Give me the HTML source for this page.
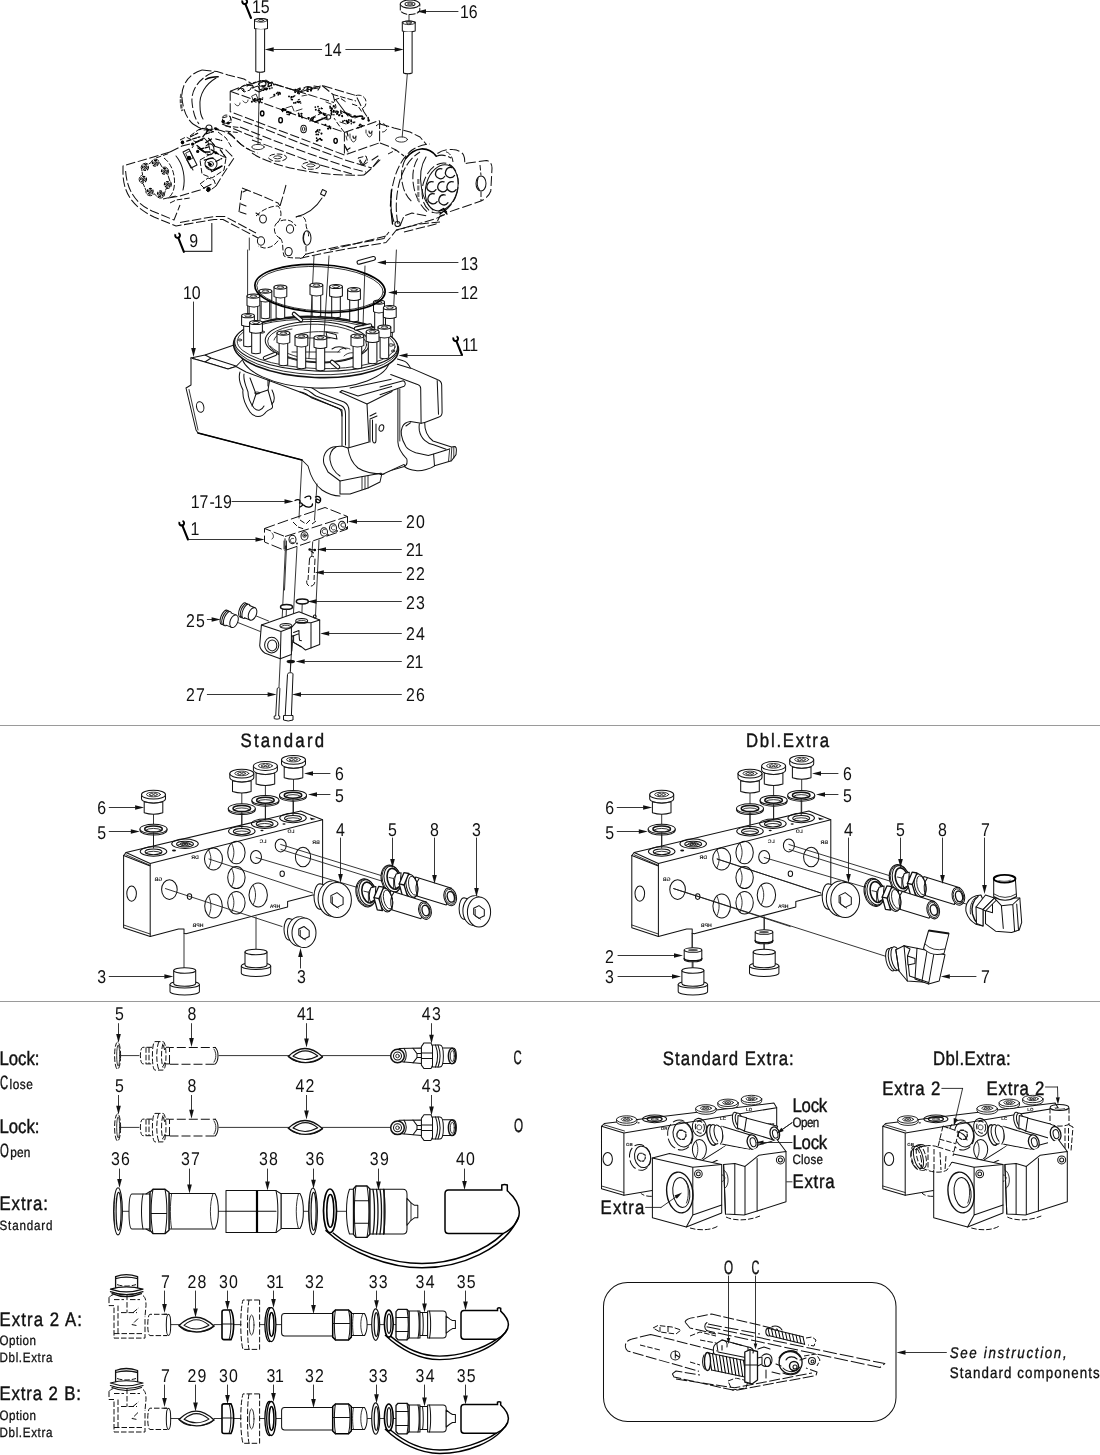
<!DOCTYPE html>
<html><head><meta charset="utf-8"><title>Parts diagram</title>
<style>
html,body{margin:0;padding:0;background:#fff;}
body{width:1100px;height:1455px;overflow:hidden;font-family:"Liberation Sans",sans-serif;}
svg{display:block;filter:grayscale(1);}
.k{fill:none;stroke:#111;stroke-width:1.02;stroke-linecap:round;stroke-linejoin:round;}
.t{fill:none;stroke:#1a1a1a;stroke-width:.88;stroke-linecap:round;stroke-linejoin:round;}
.h{fill:none;stroke:#000;stroke-width:1.4;stroke-linecap:round;stroke-linejoin:round;}
.d{fill:none;stroke:#111;stroke-width:1.02;stroke-dasharray:9.5 2.6;stroke-linecap:butt;stroke-linejoin:round;}
.d2{fill:none;stroke:#111;stroke-width:1;stroke-dasharray:5.5 2;stroke-linecap:butt;stroke-linejoin:round;}
.w{fill:#fff;stroke:#111;stroke-width:1.02;stroke-linecap:round;stroke-linejoin:round;}
.wt{fill:#fff;stroke:#1a1a1a;stroke-width:.88;stroke-linecap:round;stroke-linejoin:round;}
.f{fill:#111;stroke:none;}
text{font-family:"Liberation Sans",sans-serif;fill:#111;text-rendering:geometricPrecision;}
.n{font-size:16.5px;}
.s{font-size:12px;}
</style></head><body>
<svg width="1100" height="1455" viewBox="0 0 1100 1455">
<!-- ===== top assembly: bolts, washer ===== -->
<g id="bolts">
<path class="w" d="M254.5 19.5Q261 17.5 267.5 19.5V28.5Q261 30.5 254.5 28.5Z"/>
<ellipse class="t" cx="261" cy="20.3" rx="6.4" ry="1.8"/><ellipse class="t" cx="261" cy="20.4" rx="2.6" ry="1"/>
<path class="w" d="M255.8 29.3V71.5Q260.2 73.2 264.6 71.5V29.3"/>
<path class="t" d="M259.6 72.5L258 144.5"/>
<ellipse class="t" cx="258" cy="147" rx="6.2" ry="2.6"/>
<path class="w" d="M402.3 22Q408.8 20 415.2 22V31Q408.8 33 402.3 31Z"/>
<ellipse class="t" cx="408.8" cy="22.8" rx="6.3" ry="1.8"/><ellipse class="t" cx="408.8" cy="22.9" rx="2.6" ry="1"/>
<path class="w" d="M403.5 31.8V73Q407.8 74.7 412.1 73V31.8"/>
<path class="t" d="M407.3 74L402.2 137"/>
<ellipse class="t" cx="401.5" cy="139.5" rx="6" ry="2.6"/>
<path class="t" d="M409 15V21"/>
<path class="w" d="M400.300 4.100V10.300A9.800 4.600 0 0 0 419.800 10.300V4.100" style="stroke-dasharray:6 2.200"/>
<ellipse class="w" cx="410" cy="4.100" rx="9.800" ry="4.100"/><ellipse class="k" cx="410" cy="4" rx="5" ry="2"/><ellipse class="t" cx="410" cy="4" rx="2.600" ry="1"/>
</g>

<!-- ===== top assembly: dashed casing ===== -->
<g id="casing">
<!-- left arm outer/inner -->
<path class="d" d="M170 152L123 166L123 175C124 192 131 206 154 217L176 226L214 219.5L223 219.5L258 238"/>
<path class="d" d="M125.6 171C127 190 135 203 152 211L174 220L180 205"/>
<path class="d" d="M180 222.5L214 216.5L225 216.5L256 233"/>
<!-- 9 leader box -->
<path d="M211.800 223V251.400H184" fill="none" stroke="#333" stroke-width="1.2"/>
<!-- top-left big cylinder -->
<path class="d" d="M202 70C188 74 181 86 182 98C183 110 187 119 193 124"/>
<path class="d" d="M214 72C199 78 191 90 192 102C193 112 195 119 199 124"/>
<path class="k" d="M216 78C206 84 199 94 200 106C200 112 201 116 203 119"/>
<path class="h" d="M205.500 79.500C209 77.500 213 76.800 218.200 76.800"/>
<path d="M181.300 94C180.300 100 180.800 106 182.300 111" stroke="#555" stroke-width="2.200" stroke-dasharray="4 1.200" fill="none"/>
<path class="d" d="M202 70L217 71.5L228 75L244 79L252 84"/>
<path class="d" d="M193 124L198 127L204 130"/>
<!-- body top behind block -->
<path class="d" d="M252 84L262 80L300 92"/>
<!-- left shoulder curves going down from cylinder to top surface -->
<path class="d" d="M204 130C214 128 224 130 232 136C238 142 246 150 258 153"/>
<path class="d" d="M222 124L232 128L246 134L262 140"/>
<path class="d" d="M228 132C236 138 240 146 250 150"/>
<!-- top surface lines below valve block -->
<path class="d" d="M232 117L262 128L300 143L345 160L372 168"/>
<path class="d" d="M240 127L270 139L310 154L350 168L366 172"/>
<path class="d" d="M252 140L285 152L320 165L352 174"/>
<path class="d" d="M252 153C262 160 280 166 300 170C320 174 345 176 364 175"/>
<path class="d" d="M364 175L372 168L380 158"/>
<!-- bolt pads -->
<ellipse class="d2" cx="277.6" cy="157.6" rx="9" ry="3.6"/><ellipse class="t" cx="277.6" cy="157.3" rx="4" ry="1.5"/>
<ellipse class="d2" cx="310.8" cy="165.7" rx="9" ry="3.6"/><ellipse class="t" cx="310.8" cy="165.4" rx="4" ry="1.5"/>
<!-- small lug left of block -->
<path class="d2" d="M222 118L230 116L232 122L224 124Z"/>
<!-- lower body edge -->
<path class="d" d="M300 258.5C330 251 360 247 386 242.5L390 238L396 230.5L436 218.5L446 214"/>
<path class="d" d="M305 254.5C332 247 360 243 384 238.5L389 232"/>
<path class="d" d="M330 250L386 236"/>
<!-- right flange big curve -->
<path class="d" d="M394 222C390 210 390 196 393 184C396 170 402 158 412 150C418 146 424 144.5 430 144"/>
<path class="h" d="M391.5 190L390.5 206M391 210L392.5 224"/>
<path class="d" d="M398 224C395 210 396 194 400 180C404 168 410 158 420 152"/>
<!-- right of hole to cylinder -->
<path class="d" d="M380 124L394 128L410 132L420 137L426 144"/>
<path class="d" d="M380 143L388 146L396 150L404 156"/>
<!-- right cylinder rim arcs -->
<path class="h" d="M405.700 158.400C410 153 416 149.500 421 149C428 148.500 433 152 436.300 156.200" style="stroke-width:1.7"/>
<path class="d" d="M405.700 158.400C401.500 166 400.500 176 402.500 184C404 192 407.500 198 412.300 202"/>
<path class="d" d="M417.700 158.400C413 166 412 176 413.400 184.500C415 196 420 206 428.600 213"/>
<path class="k" d="M426 157C421 165 419.500 177 421.500 188C423 197 427 205 433 210"/>
<path class="d" d="M436.300 156.200C442 154 447 155.500 451 158"/>
<path d="M418.300 179V201" stroke="#777" stroke-width="2.200" stroke-dasharray="5 1.500" fill="none"/>
<!-- connector face -->
<ellipse class="k" cx="441.700" cy="187.800" rx="15.800" ry="23.500" transform="rotate(15 441.700 187.800)"/>
<ellipse class="d" cx="440.200" cy="188" rx="17.500" ry="25.500" transform="rotate(15 440.200 188)" style="stroke-dasharray:10 3"/>
<g class="k" style="stroke-width:1.250">
<path d="M441.9 168.8A5 5 0 1 0 444.7 176.5"/>
<path d="M451.8 167.7A5 5 0 1 0 454.6 175.4"/>
<path d="M433.2 181.9A5 5 0 1 0 436.0 189.6"/>
<path d="M444.1 181.9A5 5 0 1 0 446.9 189.6"/>
<path d="M453.3 181.9A5 5 0 1 0 456.1 189.6"/>
<path d="M434.3 193.9A5 5 0 1 0 437.1 201.6"/>
<path d="M445.2 195.0A5 5 0 1 0 448.0 202.7"/>
</g>
<path class="h" d="M439 211L443.500 208.500L446.500 212"/>
<!-- ear bracket -->
<path class="d" d="M437.400 153.500C442 150 448 149 452.600 149.600C458 150 462 152 463.500 155C465 158 465 161 464.600 163.800C466 163.500 468 163 470 162.700L486.500 160.500C490 161 492 164 492 168L490.800 191C489 196 485 199 481 201L459 208.500L446 213" style="stroke-dasharray:10 3"/>
<path class="d2" d="M446 151.800C450 153 452.500 157 453 162"/>
<path class="d2" d="M480 165L481 175.500M481 191.500V201"/>
<ellipse class="k" cx="481" cy="183.500" rx="5" ry="7.600"/>
<path class="k" d="M478 178.500C476.500 182 477 187 479.500 190"/>
<!-- below cylinder shelf -->
<path class="d" d="M400 226L404 216L412 213L428 216"/>
<path class="d" d="M396 230L420 224L440 222"/>
<path class="d" d="M404 232L436 224L440 216L446 214"/>
<circle class="k" cx="397.5" cy="224" r="2.6"/>
<path class="h" d="M440 214L444 211L447 214"/>
</g>

<!-- ===== motor (left) ===== -->
<g id="motor">
<path class="k" d="M141.8 169.8A4.3 4.3 0 0 1 148.2 164.2L151.1 162.5A4.3 4.3 0 0 1 159.5 162.6L162.3 167.5A4.3 4.3 0 0 1 167.6 174.1L169.8 180.9A4.3 4.3 0 0 1 166.2 188.5L164.6 193.1A4.3 4.3 0 0 1 156.6 195.9L153.9 193.6A4.3 4.3 0 0 1 146.0 190.4L143.1 183.6A4.3 4.3 0 0 1 142.6 175.1Z" style="stroke-dasharray:5 1.6;stroke-width:1"/>
<path class="d2" d="M156 158L170 153M163 199L176 196"/>
<circle cx="145.5" cy="167.6" r="2.900" fill="none" stroke="#000" stroke-width="1.200" stroke-dasharray="3 1"/><polygon points="147.1,168.0 145.9,169.2 144.3,168.8 143.9,167.2 145.1,166.0 146.7,166.4" fill="none" stroke="#000" stroke-width="1"/><circle cx="145.5" cy="167.6" r=".7" fill="#000"/>
<circle cx="155.3" cy="163.3" r="2.900" fill="none" stroke="#000" stroke-width="1.200" stroke-dasharray="3 1"/><polygon points="156.9,163.7 155.7,164.9 154.1,164.5 153.7,162.9 154.9,161.7 156.5,162.1" fill="none" stroke="#000" stroke-width="1"/><circle cx="155.3" cy="163.3" r=".7" fill="#000"/>
<circle cx="164.4" cy="171.3" r="2.900" fill="none" stroke="#000" stroke-width="1.200" stroke-dasharray="3 1"/><polygon points="166.0,171.7 164.8,172.9 163.2,172.5 162.8,170.9 164.0,169.7 165.6,170.1" fill="none" stroke="#000" stroke-width="1"/><circle cx="164.4" cy="171.3" r=".7" fill="#000"/>
<circle cx="167.3" cy="184.4" r="2.900" fill="none" stroke="#000" stroke-width="1.200" stroke-dasharray="3 1"/><polygon points="168.9,184.8 167.7,186.0 166.1,185.6 165.7,184.0 166.9,182.8 168.5,183.2" fill="none" stroke="#000" stroke-width="1"/><circle cx="167.3" cy="184.4" r=".7" fill="#000"/>
<circle cx="160.4" cy="193.8" r="2.900" fill="none" stroke="#000" stroke-width="1.200" stroke-dasharray="3 1"/><polygon points="162.0,194.2 160.8,195.4 159.2,195.0 158.8,193.4 160.0,192.2 161.6,192.6" fill="none" stroke="#000" stroke-width="1"/><circle cx="160.4" cy="193.8" r=".7" fill="#000"/>
<circle cx="150.2" cy="191.3" r="2.900" fill="none" stroke="#000" stroke-width="1.200" stroke-dasharray="3 1"/><polygon points="151.8,191.7 150.6,192.9 149.0,192.5 148.6,190.9 149.8,189.7 151.4,190.1" fill="none" stroke="#000" stroke-width="1"/><circle cx="150.2" cy="191.3" r=".7" fill="#000"/>
<circle cx="143.6" cy="179.3" r="2.900" fill="none" stroke="#000" stroke-width="1.200" stroke-dasharray="3 1"/><polygon points="145.2,179.7 144.0,180.9 142.4,180.5 142.0,178.9 143.2,177.7 144.8,178.1" fill="none" stroke="#000" stroke-width="1"/><circle cx="143.6" cy="179.3" r=".7" fill="#000"/>
<path class="d2" d="M164 158C172 164 176 176 174 188C173 193 171 196 168 198"/>
<path class="k" d="M176 156C183 164 186 178 183 190"/>
<path class="d" d="M170 152L182 146L190 144"/>
<path class="d" d="M168 198L180 196L200 190L212 184"/>
<path class="d2" d="M170 203L176 200L190 198"/>
<!-- label plate -->
<path class="k" d="M183 152L189 149L197 165L191 168Z"/>
<path class="t" d="M186 153L190 151L193 158L189 160Z"/>
<path class="k" d="M187 160L193 170"/>
<!-- valve on motor -->
<path class="d2" d="M200 160L214 152L226 158L224 170L212 178L202 174Z"/>
<circle class="k" cx="211" cy="164" r="6"/><circle class="t" cx="211" cy="164" r="2.5"/>
<path class="h" d="M214 170L222 166"/>
<path class="k" d="M206 146C210 142 214 144 214 150C214 154 210 156 207 154"/>
<path class="k" d="M196 142L204 138L208 142L210 150"/>
<path class="h" d="M198 148L204 152L210 152"/>
<path class="d2" d="M180 140L186 137L196 142L192 148"/>
<circle class="f" cx="182.500" cy="142" r="1.4"/>
<path class="d2" d="M190 136L198 130L206 128L214 132"/>
<circle class="k" cx="209" cy="128" r="3"/>
<path class="d2" d="M200 184L208 178L214 180L216 186L208 192Z"/>
<circle class="f" cx="208" cy="189" r="1.5"/>
<path class="d" d="M214 146L226 150L234 158L222 176L216 186"/>
<path class="d2" d="M218 132L226 138L232 148"/>
<path d="M190.5 136.8L197.7 133.2M192.6 139.0L199.9 136.8M195.5 142.6L202.8 139.7M197.0 145.5L205.7 152.8M199.9 149.2L208.6 147.0M202.8 136.8L208.6 129.5M205.7 133.9L213.0 131.7M208.6 138.3L214.5 145.5M211.5 149.9L218.8 154.3M205.7 142.6L211.5 139.0M186.8 141.2L191.2 139.7M199.2 129.5L204.3 128.1M214.5 128.1L218.8 129.5M215.9 139.0L221.7 140.5M220.3 149.9L226.1 157.9M204.3 160.1L213.0 157.9M205.7 165.9L211.5 170.3M211.5 171.7L220.3 167.4M215.9 161.5L221.7 158.6M207.9 162.3L212.3 165.2" stroke="#000" stroke-width="1.25" stroke-dasharray="4 1.5" fill="none" stroke-linecap="round"/>
<g fill="#000"><circle cx="182.5" cy="142.6" r="1.8"/><circle cx="208.6" cy="189.2" r="2.1"/><circle cx="189.0" cy="157.9" r="2.2"/><circle cx="197.7" cy="151.4" r="1.6"/><circle cx="210.1" cy="164.5" r="1.5"/><circle cx="215.9" cy="152.8" r="1.5"/><circle cx="192.6" cy="144.1" r="1.6"/><circle cx="223.2" cy="121.5" r="1.8"/><circle cx="228.3" cy="123.0" r="1.6"/><circle cx="215.9" cy="128.8" r="1.5"/></g>
<path class="d2" d="M222.500 117.200C224 114 230 114.500 230.500 118C231 121 228 124 224 123M225.400 126L238.500 127.400M225.400 131L237.700 132.500"/>
</g>
<!-- ===== valve block ===== -->
<g id="vblock">
<path class="d" d="M230.2 91.200V111.700L344.400 155L379.600 142.800V121"/>
<path class="d" d="M230.200 91.200L344.400 132.400V155"/>
<path class="d" d="M344.400 132.400L379.600 120.500"/>
<path class="d" d="M230.200 91.200L242 86.500L256 82"/>
<path class="d" d="M262 80.500L300 92L334 102.500"/>
<path class="d" d="M300 92L322 85.500L356 95.500L364 112L368 118"/>
<path class="d" d="M322 85.500L333 94.500L336 107"/>
<path class="d2" d="M333 94.500L356 101"/>
<path class="k" d="M336 100L342 108L348 116"/>
<path class="h" d="M315 122L327 117"/>
<circle class="k" cx="328.500" cy="117" r="2.200"/>
<path class="d2" d="M311 118L315 123M311 118L322 113"/>
<path class="d2" d="M356 95.500C362 94 366 98 366 102C366 106 364 108 362 108"/>
<path class="d2" d="M344.400 132.400L338 124L334 118"/>
<!-- holes on front face -->
<ellipse class="h" cx="262.200" cy="113.400" rx="1.700" ry="2.400"/>
<ellipse class="h" cx="280.600" cy="120.200" rx="1.800" ry="2.600"/>
<ellipse class="k" cx="303.600" cy="129" rx="2.800" ry="3.800"/><ellipse class="t" cx="303.600" cy="129" rx="1.200" ry="2"/>
<ellipse class="h" cx="335.600" cy="140.800" rx="1.700" ry="2.400"/>
<path class="t" d="M235 104C237 107 240 106 240 103M243 101C245 104 248 103 248 100"/>
<path class="t" d="M351 139C352 143 355 143 356 139M367 134C368 138 371 138 372 134M350 134V138M366 130V133M346 148L348 152M346 136L347 140"/>
<!-- texture dots top -->
<g fill="#000" stroke="none"><circle cx="280.3" cy="94.0" r="0.76"/><circle cx="279.5" cy="92.6" r="0.92"/><circle cx="280.1" cy="93.2" r="0.78"/><circle cx="276.7" cy="93.3" r="0.92"/><circle cx="274.3" cy="94.9" r="1.03"/><circle cx="278.2" cy="94.9" r="0.77"/><circle cx="277.9" cy="92.4" r="0.82"/><circle cx="291.1" cy="98.0" r="0.77"/><circle cx="289.0" cy="96.4" r="0.95"/><circle cx="291.5" cy="96.9" r="0.93"/><circle cx="291.7" cy="96.9" r="0.99"/><circle cx="293.4" cy="96.6" r="0.92"/><circle cx="292.2" cy="99.6" r="0.97"/><circle cx="298.7" cy="102.3" r="1.01"/><circle cx="295.6" cy="102.8" r="0.93"/><circle cx="297.5" cy="101.7" r="1.00"/><circle cx="299.9" cy="101.8" r="0.95"/><circle cx="293.9" cy="102.9" r="0.94"/><circle cx="288.7" cy="112.0" r="0.84"/><circle cx="290.3" cy="112.9" r="1.03"/><circle cx="288.7" cy="111.8" r="0.87"/><circle cx="287.2" cy="111.6" r="0.88"/><circle cx="289.1" cy="114.4" r="1.05"/><circle cx="298.6" cy="113.4" r="0.88"/><circle cx="299.3" cy="116.1" r="1.04"/><circle cx="301.5" cy="115.9" r="0.94"/><circle cx="301.4" cy="113.7" r="1.02"/><circle cx="302.1" cy="117.6" r="0.99"/><circle cx="299.5" cy="115.3" r="0.78"/><circle cx="318.4" cy="110.6" r="0.93"/><circle cx="315.3" cy="107.1" r="0.86"/><circle cx="319.1" cy="110.6" r="0.93"/><circle cx="318.0" cy="106.6" r="0.90"/><circle cx="321.4" cy="108.4" r="0.84"/><circle cx="315.8" cy="109.7" r="0.97"/><circle cx="324.7" cy="115.1" r="0.96"/><circle cx="319.8" cy="112.7" r="0.80"/><circle cx="323.3" cy="113.5" r="0.98"/><circle cx="320.3" cy="112.0" r="0.99"/><circle cx="324.8" cy="115.1" r="0.99"/><circle cx="323.6" cy="114.5" r="0.82"/><circle cx="321.6" cy="112.7" r="0.76"/><circle cx="330.1" cy="106.5" r="0.89"/><circle cx="331.8" cy="108.4" r="1.05"/><circle cx="333.7" cy="106.1" r="1.02"/><circle cx="331.9" cy="109.1" r="1.00"/><circle cx="330.3" cy="107.9" r="0.96"/><circle cx="330.9" cy="110.3" r="0.88"/><circle cx="333.8" cy="106.5" r="1.03"/><circle cx="346.5" cy="120.7" r="1.00"/><circle cx="347.6" cy="123.1" r="0.86"/><circle cx="344.7" cy="120.6" r="0.75"/><circle cx="347.6" cy="123.1" r="0.91"/><circle cx="347.3" cy="122.0" r="1.01"/><circle cx="346.6" cy="121.0" r="0.83"/><circle cx="343.0" cy="121.1" r="0.93"/><circle cx="342.7" cy="122.0" r="0.79"/><circle cx="351.1" cy="120.1" r="0.88"/><circle cx="348.8" cy="120.0" r="0.99"/><circle cx="348.7" cy="122.2" r="0.97"/><circle cx="351.3" cy="121.5" r="0.91"/><circle cx="351.3" cy="123.7" r="0.78"/><circle cx="351.3" cy="121.2" r="0.83"/><circle cx="329.3" cy="126.2" r="0.91"/><circle cx="327.9" cy="128.6" r="0.96"/><circle cx="330.6" cy="128.6" r="0.83"/><circle cx="328.4" cy="128.6" r="1.00"/><circle cx="325.5" cy="124.6" r="0.88"/><circle cx="325.1" cy="125.2" r="0.77"/><circle cx="316.3" cy="134.4" r="0.87"/><circle cx="318.1" cy="134.5" r="1.00"/><circle cx="315.9" cy="131.9" r="0.90"/><circle cx="317.1" cy="130.7" r="0.85"/><circle cx="319.7" cy="129.9" r="0.92"/><circle cx="317.8" cy="129.9" r="0.85"/><circle cx="319.0" cy="132.2" r="0.77"/><circle cx="321.5" cy="133.6" r="1.04"/><circle cx="317.5" cy="140.5" r="0.90"/><circle cx="318.1" cy="139.5" r="0.83"/><circle cx="320.2" cy="138.8" r="1.02"/><circle cx="316.6" cy="138.0" r="0.78"/><circle cx="316.6" cy="140.9" r="0.82"/><circle cx="316.6" cy="138.5" r="0.75"/><circle cx="321.5" cy="140.0" r="1.02"/><circle cx="259.5" cy="98.9" r="0.88"/><circle cx="260.4" cy="99.2" r="0.99"/><circle cx="262.6" cy="98.1" r="0.76"/><circle cx="259.3" cy="102.6" r="0.90"/><circle cx="257.5" cy="100.0" r="0.95"/><circle cx="260.3" cy="101.0" r="0.91"/><circle cx="261.9" cy="102.5" r="0.84"/><circle cx="251.9" cy="101.7" r="1.01"/><circle cx="254.7" cy="99.0" r="0.95"/><circle cx="254.4" cy="101.1" r="1.04"/><circle cx="255.9" cy="102.0" r="0.76"/><circle cx="253.0" cy="100.0" r="0.75"/><circle cx="254.3" cy="100.3" r="1.05"/><circle cx="267.4" cy="88.5" r="0.78"/><circle cx="271.2" cy="85.5" r="0.93"/><circle cx="268.4" cy="86.2" r="0.94"/><circle cx="266.3" cy="89.4" r="1.01"/><circle cx="266.7" cy="89.1" r="0.99"/><circle cx="269.7" cy="88.5" r="0.97"/><circle cx="265.3" cy="89.2" r="0.92"/><circle cx="264.7" cy="85.7" r="0.96"/><circle cx="264.6" cy="89.0" r="1.04"/><circle cx="263.5" cy="86.0" r="0.76"/><circle cx="263.5" cy="90.2" r="0.86"/><circle cx="262.2" cy="85.8" r="0.76"/><circle cx="310.9" cy="90.3" r="0.99"/><circle cx="311.5" cy="89.2" r="0.98"/><circle cx="307.4" cy="91.2" r="0.89"/><circle cx="311.5" cy="88.4" r="1.02"/><circle cx="307.7" cy="88.3" r="0.94"/><circle cx="295.3" cy="92.1" r="0.96"/><circle cx="298.1" cy="90.3" r="0.90"/><circle cx="296.7" cy="91.1" r="0.79"/><circle cx="299.6" cy="89.8" r="1.04"/><circle cx="299.9" cy="89.0" r="0.89"/><circle cx="299.1" cy="93.5" r="0.88"/><circle cx="295.3" cy="89.9" r="1.03"/><circle cx="294.9" cy="91.7" r="0.79"/><circle cx="333.8" cy="110.9" r="1.03"/><circle cx="335.8" cy="112.1" r="0.97"/><circle cx="334.0" cy="112.0" r="0.79"/><circle cx="333.4" cy="111.7" r="0.85"/><circle cx="333.9" cy="114.7" r="0.81"/><circle cx="331.2" cy="113.7" r="0.83"/><circle cx="331.6" cy="112.0" r="1.01"/><circle cx="331.7" cy="114.6" r="0.98"/><circle cx="337.3" cy="113.6" r="1.04"/><circle cx="342.1" cy="115.7" r="0.94"/><circle cx="342.3" cy="116.3" r="0.91"/><circle cx="340.9" cy="112.0" r="0.97"/><circle cx="339.1" cy="115.4" r="0.94"/><circle cx="338.0" cy="112.0" r="1.03"/><circle cx="336.9" cy="114.0" r="0.85"/><circle cx="360.1" cy="124.4" r="0.90"/><circle cx="361.2" cy="126.7" r="0.89"/><circle cx="358.0" cy="127.7" r="0.88"/><circle cx="359.4" cy="125.2" r="0.80"/><circle cx="359.5" cy="125.6" r="0.86"/><circle cx="361.2" cy="125.0" r="0.76"/><circle cx="363.1" cy="119.1" r="0.94"/><circle cx="368.1" cy="117.7" r="0.83"/><circle cx="363.9" cy="118.6" r="0.88"/><circle cx="368.7" cy="120.8" r="1.01"/><circle cx="362.4" cy="116.8" r="0.96"/><circle cx="368.3" cy="119.0" r="0.93"/><circle cx="362.2" cy="118.6" r="1.03"/><circle cx="282.6" cy="111.4" r="0.75"/><circle cx="282.9" cy="110.4" r="0.76"/><circle cx="286.9" cy="112.3" r="0.94"/><circle cx="285.6" cy="109.8" r="0.98"/><circle cx="282.7" cy="109.1" r="1.03"/><circle cx="283.4" cy="108.9" r="0.99"/><circle cx="282.1" cy="110.3" r="1.05"/><circle cx="284.0" cy="109.2" r="1.00"/><circle cx="308.8" cy="117.8" r="0.88"/><circle cx="310.8" cy="119.1" r="0.96"/><circle cx="313.1" cy="118.4" r="0.87"/><circle cx="308.3" cy="118.1" r="1.00"/><circle cx="308.7" cy="119.1" r="0.81"/><circle cx="313.4" cy="117.6" r="0.89"/><circle cx="310.0" cy="121.0" r="0.78"/><circle cx="312.5" cy="119.6" r="1.02"/></g>
<path d="M277.6 93.1l1.7 0.1M277.7 94.8l2.0 -0.8M290.7 99.7l1.3 -0.2M293.5 96.4l1.8 -0.9M299.9 103.2l1.5 -0.2M297.9 100.0l1.8 -0.7M289.8 112.9l1.5 -0.8M286.6 114.0l1.2 0.7M301.0 114.1l1.3 -0.6M298.2 115.2l1.3 -1.0M318.1 109.2l1.8 -0.6M320.9 107.9l2.0 0.8M318.6 112.5l1.5 0.4M324.2 113.2l2.3 1.0M334.2 108.3l2.1 -0.8M330.9 110.4l1.2 0.2M346.8 121.8l1.7 0.2M346.8 122.0l2.3 0.0M352.5 122.4l1.9 0.5M353.4 122.1l1.9 0.0M329.0 127.6l2.3 -0.7M329.3 127.1l1.4 0.8M315.8 131.2l1.2 0.6M316.8 130.7l1.7 0.8M318.9 138.5l2.1 0.9M321.0 139.4l1.4 0.9M257.6 99.2l1.4 0.8M260.6 98.8l2.4 1.0M254.1 99.2l2.3 -0.6M253.3 100.4l1.3 -0.4M269.1 86.3l1.9 -0.7M271.0 88.0l1.8 -0.1M262.7 87.0l1.5 -0.1M260.0 89.7l2.3 -0.8M307.4 90.9l1.6 0.3M310.3 90.9l1.4 -0.0M297.1 93.1l1.4 0.6M297.0 92.8l2.0 -0.5M336.7 111.7l1.3 0.3M335.4 111.1l2.4 -0.1M338.2 115.1l2.4 -0.5M340.4 113.4l1.9 -0.2M361.3 126.0l2.1 -0.6M357.7 127.5l1.8 0.1M367.6 120.5l2.4 -0.5M363.3 117.7l1.8 0.4M283.9 110.2l1.9 -0.9M284.9 110.7l1.3 -0.6M311.5 120.7l1.3 0.2M314.2 117.3l1.2 0.2" stroke="#000" stroke-width="1.1" fill="none"/>
<path class="t" d="M252 96L256 94L258 99L254 101ZM270 98L275 96M286 108L292 106L294 111M296 111L302 109M302 96L307 95M322 118L328 120M340 122L346 124M326 102L331 104M344 112L350 114M355 118L360 116"/>
<!-- clutter top-left of block -->
<path class="k" d="M238 90C240 87 244 88 244 91M247 86C250 84 254 85 253 88M259 82C262 80 266 81 266 84C266 86 263 87 261 86M268 84L272 82L274 85M255 90L259 92L263 90" style="stroke-width:1.2"/>
<path class="k" d="M304 88C306 86 310 86 312 88M314 86L320 87L318 90M296 90L300 88" style="stroke-width:1.2"/>
<path class="d2" d="M334 100L340 98L346 102M352 104L358 106L362 112M340 110L346 114L356 116"/>
<path class="k" d="M353 136C353 139 356 139 356 136M369 131C369 134 372 134 372 131M347 132L348 136M345 146L347 150L350 148" style="stroke-width:1.2"/>
<path class="d2" d="M240 88L246 84L252 86L250 90L244 92Z"/>
<path class="d2" d="M258 84L266 80L272 84L268 88L262 88Z"/>
<path class="k" d="M252 88L258 86L260 90M262 82C266 80 270 82 268 86"/>
<path class="d2" d="M300 92C304 88 310 86 314 88M306 90L318 88"/>
<path class="h" d="M344 112L352 117L362 116"/>
<!-- nubs right of block -->
<path class="d2" d="M376 126C380 122 386 123 387 128C386 132 382 133 379 131"/>
<path class="d2" d="M358 158L366 156L368 162L362 166Z"/><path class="k" d="M360 160L363 165L366 160"/>
<path class="k" d="M372 160L378 156M374 166L380 160"/>
<path class="d2" d="M388 154L396 150"/>
</g>
<!-- ===== center flange, bracket, wire ===== -->
<g id="clover">
<path class="d" d="M239 212L242 188"/>
<path class="d" d="M242 188L262 196L278 203L280 206"/>
<path class="d" d="M286 185L283 196L280 206"/>
<path class="k" d="M243 192L247 190M241 204L246 206M240 212L246 214"/>
<path class="d2" d="M256 216C262 210 270 206 278 206C282 210 282 218 278 222C286 218 292 220 296 226"/>
<path class="d2" d="M296 217C302 214 306 218 306 224C306 230 310 232 308 238"/>
<path class="d2" d="M278 222C272 226 274 236 280 238C276 244 272 248 264 248L258 246"/>
<path class="d2" d="M280 238C284 242 282 250 284 256C288 258 294 258 300 258"/>
<path class="d2" d="M306 246L306 254L302 258"/>
<ellipse class="k" cx="263" cy="219" rx="3.400" ry="4"/><path class="k" d="M259 215L256 213"/>
<ellipse class="k" cx="261" cy="241" rx="3.600" ry="4.200"/>
<ellipse class="k" cx="290" cy="229" rx="3.600" ry="4.200"/>
<ellipse class="k" cx="288.600" cy="251.600" rx="3.600" ry="4.200"/>
<ellipse class="k" cx="307" cy="238" rx="4" ry="7.200"/>
<path class="k" d="M304.500 233C303 237 303.500 241 305 244"/>
<path class="k" d="M296 217C308 214 316 208 322 198"/>
<path class="k" d="M322.500 189.500L326.500 191.500L324.500 196L320.500 194Z"/>
</g>

<!-- ===== carrier housing 10 (drawn before ring so flange overlaps) ===== -->
<g id="carrier">
<!-- left plate -->
<path class="w" d="M191 358L205 355L234 345L250 352L236 366.500L228 369L205 362Z"/>
<path class="k" d="M205 355L211 358L205 362M211 358L236 366"/>
<path class="w" d="M191 358L205 362L228 369L236 366.500L246 372L300 392L342 410L342 446L333 447C326 449 322 456 324 464L328 472L340 481V494L350 494L368 488L380 482L382 473L406 466L399 388L367 404L369 442L348 448L342 446"/>
<path class="w" d="M191 358V385L186 388L196 430L198 433L302 460L308 466C310 474 314 484 322 490C328 494 334 496 340 496"/>
<path class="h" d="M198 433L302 460"/>
<path class="t" d="M189 389.500L198 430"/>
<ellipse class="k" cx="200.200" cy="407" rx="3.600" ry="5.300" transform="rotate(-14 200.200 407)"/>
<!-- shackle bracket -->
<path class="k" d="M240 372C238 378 240 384 243 390C242 398 246 406 250 412C254 418 262 418 266 412C270 408 274 410 272 404"/>
<path class="k" d="M244 374C243 380 246 386 248 392C248 398 251 404 254 408C258 412 262 410 264 406"/>
<path class="k" d="M250 378L256 394L268 390L270 378"/>
<path class="k" d="M256 394L252 406M268 390L272 404"/>
<path class="k" d="M268 386V376"/>
<ellipse class="t" cx="257" cy="393" rx="2.600" ry="1"/>
<path class="k" d="M272 404C276 400 274 394 272 390"/>
<!-- channel S lines -->
<path class="k" d="M300 392C306 392 308 396 312 398L338 408C341 409 342 412 342 416"/>
<path class="k" d="M304 389C310 390 312 394 316 396L341 405.500C344.500 407 345.500 410 345.500 414V445"/>
<path class="k" d="M308 386C314 388 316 391 320 393L344 402C348 404 349 407 349 411V447.500"/>
<!-- top of front block -->
<path class="k" d="M340 392L367 404M342 390.500L358 396L404 383M350 388L400 377.500"/>
<path class="k" d="M342 390.500L340 392"/>
<!-- clip -->
<path class="k" d="M370 416L376 413M370 419L377 416"/>
<path class="k" d="M370 420V442M372.500 420V440C373 444 376 444 376 440V424"/>
<ellipse class="k" cx="381.400" cy="428" rx="2.300" ry="3.300" transform="rotate(15 381.400 428)"/>
<!-- left saddle -->
<path class="k" d="M348 448C349 456 352 463 358 468C364 472 374 474 384 474"/>
<path class="k" d="M336 447C332 449 329 454 330 460C331 466 334 472 340 476"/>
<path class="k" d="M340 481L360 477L382 473"/>
<path class="t" d="M362 477V489.500M365 476.500V489M368 476V488"/>
<!-- right block -->
<path d="M390.700 370L397.400 358.900L403.200 360.700C406 361.500 408.500 364 410.400 367.900L437.200 379.500C440 380.500 441.700 382 441.700 385L442.100 412.600C442 415 441 416.500 439 417L424.700 422.400C424.500 430 428 437 433 441L451.500 447L455.100 446.500C456.300 447.500 456.500 449 456.400 450L456 454.600L451.500 460.800L434.500 465.800C431 468.500 422 471.500 415.700 470.600C411 470 407 468.500 405 467L404.100 464.400L382.700 474.200L380 471L399 466Z" fill="#fff" stroke="none"/>
<path class="k" d="M397.400 358.900L403.200 360.700C406 361.500 408.500 364 410.400 367.900L437.200 379.500C440 380.500 441.700 382 441.700 385L442.100 412.600C442 415 441 416.500 439 417L424.700 422.400C424.500 430 428 437 433 441L451.500 447L455.100 446.500C456.300 447.500 456.500 449 456.400 450L456 454.600L451.500 460.800L434.500 465.800C431 468.500 422 471.500 415.700 470.600C411 470 407 468.500 405 467L404.100 464.400L382.700 474.200"/>
<path class="k" d="M397.400 364.300L410.400 368.300"/>
<path class="k" d="M437.200 380.400L438.500 414.300"/>
<path class="k" d="M390.700 374.600L417.500 384.400C419.500 385.200 420.700 386 420.700 388.500L421.100 423.300"/>
<path class="k" d="M380 387L403.200 380.800C405.500 381.500 406 385 404.100 386.200L380 394.700"/>
<path class="k" d="M397.900 389.300V442C398 448 402 454 406.800 459C407.500 462 406.500 465 405 466.200"/>
<path class="t" d="M399.800 389V441"/>
<!-- saddle right -->
<path class="k" d="M424.700 422.400L421.100 423.300L410.400 421.500C406 422 403.500 424 402.300 427C401 430 401 433 401.400 434.900C402 439 404 443.500 405.900 446.500C408 449.500 412 451.500 415.700 452.800L428.300 455.500L433.600 454.100L448.800 449.200"/>
<path class="k" d="M419.300 423.700C419 426 419 428 419.300 430.400C420 434 422 438 424.700 440.300C427 442.500 430 444 433.600 444.700L446.100 449.200"/>
<path class="k" d="M433.600 454.100L434.500 465.800"/>
<path class="t" d="M449.700 448.500L448.500 461.500M451.800 447.300L451 461M453.800 446.700L453.800 458"/>
<path class="k" d="M405.900 426L410.400 422.800"/>
<path class="k" d="M380 474.500L382.700 474.200"/>
</g>

<g id="ringasm">
<path class="t" d="M247.6 250V314M396.4 250L391.5 354M249.3 238V250"/>
<g transform="rotate(2.2 316 347)">
<path class="w" d="M242 345A74 31 0 0 0 390 345" transform="translate(0,12)"/>
<ellipse class="w" cx="316" cy="347" rx="82.5" ry="30.5" style="stroke-width:1.6"/>
<ellipse class="t" cx="316" cy="346" rx="82" ry="28.6"/>
<ellipse class="w" cx="316" cy="344.5" rx="81.5" ry="26.5"/>
<ellipse class="t" cx="316" cy="344" rx="79" ry="24.5"/>
<ellipse class="k" cx="317" cy="342" rx="52" ry="20.5"/>
<ellipse class="t" cx="317" cy="343" rx="49.5" ry="18.8"/>
</g>
<path class="t" d="M270 346C280 356 300 362 320 363C340 363 356 358 366 350"/>
<path class="t" d="M274 340C276 334 284 330 292 329M282 350C290 356 304 359 318 359M292 352H340"/>
<path class="t" d="M298 338H330M300 334C310 331 326 331 338 333"/>
<path class="k" d="M326 332L336 334.500L337 339L327 337Z"/>
<path class="t" d="M338 352C340 348 346 347 350 349M344 356C348 352 354 352 356 354"/>
<path class="k" d="M332 349C336 346 342 346 346 349"/>
<ellipse class="t" cx="240" cy="340" rx="1.6" ry="1"/><ellipse class="t" cx="262" cy="332" rx="2.4" ry="1.2"/><ellipse class="t" cx="391" cy="345" rx="2.4" ry="1.2"/><ellipse class="t" cx="393" cy="351" rx="1.6" ry="1"/>
<path d="M294 314L301 320" stroke="#111" stroke-width="4.5" stroke-linecap="round" fill="none"/><path d="M294 314L301 320" stroke="#fff" stroke-width="2.3000000000000003" stroke-linecap="round" fill="none"/>
<path d="M356 328.5L370 325.5" stroke="#111" stroke-width="4.5" stroke-linecap="round" fill="none"/><path d="M356 328.5L370 325.5" stroke="#fff" stroke-width="2.3000000000000003" stroke-linecap="round" fill="none"/>
<path d="M332 362L338 367" stroke="#111" stroke-width="4.5" stroke-linecap="round" fill="none"/><path d="M332 362L338 367" stroke="#fff" stroke-width="2.3000000000000003" stroke-linecap="round" fill="none"/>
<path d="M265 358L275 354" stroke="#111" stroke-width="4.5" stroke-linecap="round" fill="none"/><path d="M265 358L275 354" stroke="#fff" stroke-width="2.3000000000000003" stroke-linecap="round" fill="none"/>
<path class="t" d="M314 256L309 358M329 256L324 336M365 266L363 326M260 306V330M271 300V322"/>
<path class="w" d="M261.1 300.6V318.0Q265.4 319.6 269.7 318.0V300.6"/>
<path class="w" d="M259.0 291.1V300.6Q265.4 303.2 271.8 300.6V291.1"/>
<ellipse class="w" cx="265.4" cy="291.1" rx="6.4" ry="2.1"/>
<ellipse class="t" cx="265.4" cy="291.2" rx="3.2" ry="1.2"/>
<path class="w" d="M249.1 305.6V324.0Q253.4 325.6 257.7 324.0V305.6"/>
<path class="w" d="M247.0 296.1V305.6Q253.4 308.2 259.8 305.6V296.1"/>
<ellipse class="w" cx="253.4" cy="296.1" rx="6.4" ry="2.1"/>
<ellipse class="t" cx="253.4" cy="296.2" rx="3.2" ry="1.2"/>
<path class="w" d="M276.1 296.6V318.0Q280.4 319.6 284.7 318.0V296.6"/>
<path class="w" d="M274.0 287.1V296.6Q280.4 299.2 286.8 296.6V287.1"/>
<ellipse class="w" cx="280.4" cy="287.1" rx="6.4" ry="2.1"/>
<ellipse class="t" cx="280.4" cy="287.2" rx="3.2" ry="1.2"/>
<path class="w" d="M312.1 294.6V316.0Q316.4 317.6 320.7 316.0V294.6"/>
<path class="w" d="M310.0 285.1V294.6Q316.4 297.2 322.8 294.6V285.1"/>
<ellipse class="w" cx="316.4" cy="285.1" rx="6.4" ry="2.1"/>
<ellipse class="t" cx="316.4" cy="285.2" rx="3.2" ry="1.2"/>
<path class="w" d="M331.7 296.0V317.0Q336.0 318.6 340.3 317.0V296.0"/>
<path class="w" d="M329.6 286.5V296.0Q336.0 298.6 342.4 296.0V286.5"/>
<ellipse class="w" cx="336.0" cy="286.5" rx="6.4" ry="2.1"/>
<ellipse class="t" cx="336.0" cy="286.6" rx="3.2" ry="1.2"/>
<path class="w" d="M349.7 299.2V321.0Q354.0 322.6 358.3 321.0V299.2"/>
<path class="w" d="M347.6 289.7V299.2Q354.0 301.8 360.4 299.2V289.7"/>
<ellipse class="w" cx="354.0" cy="289.7" rx="6.4" ry="2.1"/>
<ellipse class="t" cx="354.0" cy="289.8" rx="3.2" ry="1.2"/>
<path class="w" d="M374.7 311.6V330.0Q379.0 331.6 383.3 330.0V311.6"/>
<path class="w" d="M373.5 302.1V311.6Q379.0 314.2 384.5 311.6V302.1"/>
<ellipse class="w" cx="379.0" cy="302.1" rx="5.5" ry="2.1"/>
<ellipse class="t" cx="379.0" cy="302.2" rx="2.8" ry="1.2"/>
<path class="w" d="M385.5 317.2V332.0Q389.8 333.6 394.1 332.0V317.2"/>
<path class="w" d="M383.4 307.7V317.2Q389.8 319.8 396.2 317.2V307.7"/>
<ellipse class="w" cx="389.8" cy="307.7" rx="6.4" ry="2.1"/>
<ellipse class="t" cx="389.8" cy="307.8" rx="3.2" ry="1.2"/>
<path class="w" d="M243.7 325.2V346.0Q248.0 347.6 252.3 346.0V325.2"/>
<path class="w" d="M241.6 315.7V325.2Q248.0 327.8 254.4 325.2V315.7"/>
<ellipse class="w" cx="248.0" cy="315.7" rx="6.4" ry="2.1"/>
<ellipse class="t" cx="248.0" cy="315.8" rx="3.2" ry="1.2"/>
<path class="w" d="M251.7 332.0V353.0Q256.0 354.6 260.3 353.0V332.0"/>
<path class="w" d="M249.6 322.5V332.0Q256.0 334.6 262.4 332.0V322.5"/>
<ellipse class="w" cx="256.0" cy="322.5" rx="6.4" ry="2.1"/>
<ellipse class="t" cx="256.0" cy="322.6" rx="3.2" ry="1.2"/>
<path class="w" d="M279.1 342.6V365.0Q283.4 366.6 287.7 365.0V342.6"/>
<path class="w" d="M277.0 333.1V342.6Q283.4 345.2 289.8 342.6V333.1"/>
<ellipse class="w" cx="283.4" cy="333.1" rx="6.4" ry="2.1"/>
<ellipse class="t" cx="283.4" cy="333.2" rx="3.2" ry="1.2"/>
<path class="w" d="M297.1 345.6V368.0Q301.4 369.6 305.7 368.0V345.6"/>
<path class="w" d="M295.0 336.1V345.6Q301.4 348.2 307.8 345.6V336.1"/>
<ellipse class="w" cx="301.4" cy="336.1" rx="6.4" ry="2.1"/>
<ellipse class="t" cx="301.4" cy="336.2" rx="3.2" ry="1.2"/>
<path class="w" d="M316.1 347.2V370.0Q320.4 371.6 324.7 370.0V347.2"/>
<path class="w" d="M314.0 337.7V347.2Q320.4 349.8 326.8 347.2V337.7"/>
<ellipse class="w" cx="320.4" cy="337.7" rx="6.4" ry="2.1"/>
<ellipse class="t" cx="320.4" cy="337.8" rx="3.2" ry="1.2"/>
<path class="w" d="M353.1 345.6V368.0Q357.4 369.6 361.7 368.0V345.6"/>
<path class="w" d="M351.0 336.1V345.6Q357.4 348.2 363.8 345.6V336.1"/>
<ellipse class="w" cx="357.4" cy="336.1" rx="6.4" ry="2.1"/>
<ellipse class="t" cx="357.4" cy="336.2" rx="3.2" ry="1.2"/>
<path class="w" d="M380.1 336.6V358.0Q384.4 359.6 388.7 358.0V336.6"/>
<path class="w" d="M378.0 327.1V336.6Q384.4 339.2 390.8 336.6V327.1"/>
<ellipse class="w" cx="384.4" cy="327.1" rx="6.4" ry="2.1"/>
<ellipse class="t" cx="384.4" cy="327.2" rx="3.2" ry="1.2"/>
<path class="w" d="M368.3 341.2V363.0Q372.6 364.6 376.9 363.0V341.2"/>
<path class="w" d="M366.2 331.7V341.2Q372.6 343.8 379.0 341.2V331.7"/>
<ellipse class="w" cx="372.6" cy="331.7" rx="6.4" ry="2.1"/>
<ellipse class="t" cx="372.6" cy="331.8" rx="3.2" ry="1.2"/>
<g transform="rotate(3 320 288.500)">
<ellipse cx="320" cy="288.500" rx="65.200" ry="23.800" fill="none" stroke="#000" stroke-width="1.700"/>
<ellipse class="t" cx="320" cy="288.800" rx="63.300" ry="22.100"/>
</g>
<path d="M359 262.3L373.5 258.4" stroke="#111" stroke-width="4.9" stroke-linecap="round" fill="none"/><path d="M359 262.3L373.5 258.4" stroke="#fff" stroke-width="2.7" stroke-linecap="round" fill="none"/>
</g>
<!-- ===== lower: block 20, bolts, block 24, plugs ===== -->
<g id="lower">
<!-- axis lines -->
<path class="t" d="M302 460L299 518M317 484L314.500 520"/>
<path class="t" d="M285.500 546L279 687M286.500 546L284.500 590M297 547L290.400 671M319 540L315.500 616M312.700 541.800L311.800 556"/>
<!-- clips 17-19 -->
<path class="h" d="M295 500.500C298 498.500 301.500 500 299.500 503C302.500 502.500 304 505.500 300 507M303.500 505C307 508.500 312.500 507.500 312.500 504M305 497.500C308 495 312 496 310.500 499" style="stroke-width:1.300"/>
<path class="h" d="M315.500 497C318.500 495.500 321.500 497.500 320.500 501C319 504 315.500 503 316 499.500M317 499L320 500.500" style="stroke-width:1.300"/>
<!-- block 20 dashed -->
<path class="d2" d="M264.500 528.500L287 520.500L325 507.500L347.500 516.500V529L285 550.500V536.500L264.500 528.500V542L285 550.500" style="stroke-dasharray:11 3"/>
<path class="d2" d="M285 536.500L347.500 516.500" style="stroke-dasharray:11 3"/>
<g class="k"><ellipse cx="292.500" cy="539.500" rx="3.500" ry="4.300"/><ellipse cx="304.500" cy="536" rx="3.500" ry="4.300"/><ellipse cx="324" cy="532" rx="3.500" ry="4.300"/><ellipse cx="333" cy="528" rx="3.500" ry="4.300"/><ellipse cx="342" cy="525.500" rx="3.500" ry="4.300"/></g>
<g class="t"><path d="M293.500 538.500A2.200 2.200 0 1 0 293.500 542.500"/><circle cx="304.500" cy="535.500" r="1.800"/><path d="M325.300 529.500A2.200 2.200 0 1 0 325.300 533.500"/><path d="M334.400 525.800A2.200 2.200 0 1 0 334.400 529.800"/><path d="M344 523A2.200 2.200 0 1 0 344 527"/></g>
<g class="f"><circle cx="304.500" cy="535.500" r="1"/><circle cx="297" cy="543.500" r=".9"/><circle cx="328" cy="535" r=".9"/><circle cx="337" cy="531" r=".9"/><circle cx="346.500" cy="528" r=".9"/></g>
<path class="t" d="M272 533C274 535 274 538 272 539"/>
<path class="d2" d="M293 522L297 526M300 520L306 524L310 520M298 527L304 529M312 524L316 521"/>
<path class="t" d="M284 541V549M286.500 541V550"/>
<!-- washer 21, bolt 22 -->
<circle cx="309.700" cy="549.500" r="1.300" fill="#000"/><circle cx="314.800" cy="550" r="1.300" fill="#000"/><path class="k" d="M309.700 549.500L314.800 550M311 551L313.500 553"/>
<path class="d2" d="M309.500 559L308 580M315 559L314 580M309.500 559C309.500 555.500 315 555.500 315 559M306.800 580.500C305.500 588 315.500 588 314.800 580.500" style="stroke-dasharray:6 2"/>
<!-- o-rings 23 -->
<ellipse class="w" cx="286.500" cy="606.900" rx="6" ry="2.400" style="stroke-width:1.500"/>
<ellipse class="w" cx="302.300" cy="601.500" rx="6" ry="2.400" style="stroke-width:1.500"/>
<path class="t" d="M286.400 609.500L286 622M302.200 604L301.800 617"/>
<!-- plugs 25 -->
<path class="t" d="M234 621L260.300 631.500M252.600 614.500L268.500 621"/>
<g transform="translate(224.300,617.300) rotate(22)">
<path class="w" d="M0 -7.600H3.500V7.600H0Z" style="stroke:none"/>
<ellipse class="w" cx="0" cy="0" rx="3.400" ry="7.600"/><ellipse class="k" cx="1.800" cy="0" rx="3.400" ry="7.600"/><ellipse class="w" cx="3.600" cy="0" rx="3.400" ry="7.600"/>
<path class="w" d="M4.500 -6.600H10.500V6.600H4.500Z" style="stroke:none"/><path class="k" d="M4.500 -6.600H10.500M4.500 6.600H10.500"/>
<ellipse class="w" cx="10.500" cy="0" rx="3.800" ry="6.600"/>
</g>
<g transform="translate(242.800,610) rotate(22)">
<path class="w" d="M0 -7.600H3.500V7.600H0Z" style="stroke:none"/>
<ellipse class="w" cx="0" cy="0" rx="3.400" ry="7.600"/><ellipse class="k" cx="1.800" cy="0" rx="3.400" ry="7.600"/><ellipse class="w" cx="3.600" cy="0" rx="3.400" ry="7.600"/>
<path class="w" d="M4.500 -6.600H10.500V6.600H4.500Z" style="stroke:none"/><path class="k" d="M4.500 -6.600H10.500M4.500 6.600H10.500"/>
<ellipse class="w" cx="10.500" cy="0" rx="3.800" ry="6.600"/>
</g>
<!-- block 24 -->
<path class="w" d="M261.400 624.900L299 611.800L319.700 620V644.500L305.500 650L301.200 646.700L293.600 642.400V635.800L291.400 636V654.400L280.300 658.700L265.200 653.300C262 651 260 648 259.700 645.600Z"/>
<path class="k" d="M261.400 624.900L281 631.500L291.400 627.600L296.300 622.200L311 622.700L319.700 620M281 631.500L280.300 658.700M291.400 627.600V636M311 622.700V648"/>
<path class="k" d="M293.600 635.800L299 633.600L299.500 640.200L301.500 640.700M299 633.600V630.500L293.600 632.500M293.600 642.400L301.200 646.700"/>
<ellipse class="k" cx="271.700" cy="645.100" rx="7.100" ry="7.900"/><ellipse class="k" cx="272.200" cy="645.400" rx="4.600" ry="5.500"/>
<ellipse class="k" cx="285.900" cy="625.800" rx="6" ry="2.400"/><ellipse class="k" cx="301.700" cy="620.900" rx="6" ry="2.400"/>
<path class="t" d="M281 626.800C283 624.600 289 624.600 291 626.800M296.800 621.900C298.800 619.700 304.800 619.700 306.800 621.900"/>
<circle class="k" cx="314.800" cy="616.500" r="1.400"/>
<path class="t" d="M292.700 640L291.900 651"/>
<!-- washer 21b, bolts -->
<ellipse cx="290.800" cy="661.500" rx="4.200" ry="1.800" fill="#111"/>
<path class="t" d="M290.600 663.500L290.300 672"/>
<path class="w" d="M287.500 674C287.500 672.200 293 672.200 293 674L291.400 715.500H293V720Q288.200 722 283.500 720V715.500H284.800Z" style="stroke-width:1"/>
<path class="t" d="M284.800 715.500H291.400"/>
<path class="w" d="M277.200 688.500C277.200 687.300 279.900 687.300 279.900 688.500L278.600 716H279.700V718.700Q277 719.700 274.200 718.700V716H275.300Z" style="stroke-width:.95"/>
</g>

<g id="manifold">
<path class="t" d="M153.500 813V849M241.800 793V829M265.400 785V822M293.500 779V816"/>
<path class="w" d="M126 852.500L300.700 811L322.600 819.800V895L312.700 895L287.600 901.600V907L186 933.700L184 933.300V929H178.500L150.200 936.600L123.600 927.800V855.500Z"/>
<path class="k" d="M126 852.500L150.200 863.500L322.600 819.800M150.200 863.500V936.600M123.600 855.500L150.200 866"/>
<path class="t" d="M123.600 925L150.200 934M126 854.800L150 865.300"/>
<g transform="translate(153.5,851.5)">
<ellipse class="k" cx="0" cy="0" rx="13.300" ry="4.700"/>
<ellipse class="k" cx="0" cy="0.300" rx="8.500" ry="2.900"/>
<path class="t" d="M-7.500 1.400A8 2.500 0 0 1 7.500 1.400"/></g>
<g transform="translate(185,843.8)">
<ellipse class="k" cx="0" cy="0" rx="13.300" ry="4.700"/>
<ellipse class="k" cx="0" cy="0.300" rx="8.500" ry="2.900"/>
<path class="t" d="M-7.500 1.400A8 2.500 0 0 1 7.500 1.400"/><ellipse class="t" cx="0" cy="0.300" rx="5" ry="1.700"/><path class="t" d="M-3 .3L-1.500 -.6L0 0L1.500 -.6L3 .3L1.500 1.200L0 .6L-1.500 1.200Z"/></g>
<g transform="translate(241.8,831.2)">
<ellipse class="k" cx="0" cy="0" rx="13.300" ry="4.700"/>
<ellipse class="k" cx="0" cy="0.300" rx="8.500" ry="2.900"/>
<path class="t" d="M-7.500 1.400A8 2.500 0 0 1 7.500 1.400"/></g>
<g transform="translate(264.7,823.7)">
<ellipse class="k" cx="0" cy="0" rx="13.300" ry="4.700"/>
<ellipse class="k" cx="0" cy="0.300" rx="8.500" ry="2.900"/>
<path class="t" d="M-7.500 1.400A8 2.500 0 0 1 7.500 1.400"/></g>
<g transform="translate(293,818)">
<ellipse class="k" cx="0" cy="0" rx="13.300" ry="4.700"/>
<ellipse class="k" cx="0" cy="0.300" rx="8.500" ry="2.900"/>
<path class="t" d="M-7.500 1.400A8 2.500 0 0 1 7.500 1.400"/></g>
<g class="f"><ellipse cx="174" cy="850.500" rx="2" ry="1"/><ellipse cx="262" cy="830.500" rx="1.600" ry=".8"/><ellipse cx="284" cy="824" rx="1.600" ry=".8"/><path d="M310 817.500L316 819L311 820Z"/></g>
<ellipse class="k" cx="169.4" cy="889.6" rx="7.8" ry="9.8"/>
<ellipse class="k" cx="213.5" cy="859" rx="9" ry="11"/>
<path class="t" d="M208.6 850.0C211.7 855.7 211.7 862.3 208.6 868.0"/>
<ellipse class="k" cx="236.4" cy="852.5" rx="8.7" ry="11.3"/>
<path class="t" d="M231.6 843.2C234.7 849.1 234.7 855.9 231.6 861.8"/>
<ellipse class="k" cx="236.4" cy="877.6" rx="8.7" ry="11"/>
<path class="t" d="M231.6 868.6C234.7 874.3 234.7 880.9 231.6 886.6"/>
<ellipse class="k" cx="213.5" cy="906" rx="8.8" ry="12"/>
<path class="t" d="M208.7 896.2C211.7 902.4 211.7 909.6 208.7 915.8"/>
<ellipse class="k" cx="236.4" cy="902.7" rx="8.7" ry="11.3"/>
<path class="t" d="M231.6 893.4C234.7 899.3 234.7 906.1 231.6 912.0"/>
<ellipse class="k" cx="258.2" cy="895" rx="9.2" ry="12"/>
<path class="t" d="M253.1 885.2C256.4 891.4 256.4 898.6 253.1 904.8"/>
<ellipse class="k" cx="256" cy="857" rx="5.5" ry="6.5"/>
<ellipse class="k" cx="280.7" cy="845.4" rx="5.5" ry="6.5"/>
<ellipse class="k" cx="303" cy="857" rx="7.6" ry="9.8"/>
<ellipse class="k" cx="189.500" cy="896.600" rx="2.200" ry="2.800"/><ellipse class="k" cx="282.200" cy="873.700" rx="2.200" ry="2.800"/>
<ellipse class="k" cx="131.600" cy="893.600" rx="4.800" ry="7.600"/>
<g font-size="5.2" font-weight="bold" style="fill:#000"><text transform="translate(158.4,881) scale(-1,1)" text-anchor="middle">GB</text><text transform="translate(195,859) scale(-1,1)" text-anchor="middle">DR</text><text transform="translate(263,843) scale(-1,1)" text-anchor="middle">LC</text><text transform="translate(291,833) scale(-1,1)" text-anchor="middle">LO</text><text transform="translate(316,844) scale(-1,1)" text-anchor="middle">BR</text><text transform="translate(198,927) scale(-1,1)" text-anchor="middle">HPB</text><text transform="translate(275,908) scale(-1,1)" text-anchor="middle">HPA</text></g>
<path class="t" d="M165.500 888.600L282 926.500M209 859L312.700 893M184 933.300V968M256 917V950"/>
<g transform="translate(153.5,829)">
<path class="w" d="M-13.500 0V1.300A13.500 4.800 0 0 0 13.500 1.300V0"/>
<ellipse class="w" cx="0" cy="0" rx="13.500" ry="4.800"/>
<ellipse class="k" cx="0" cy="0" rx="8.800" ry="3" style="stroke-width:1.5"/>
<path class="t" d="M-7.500 1A8 2.400 0 0 1 7.500 1"/>
</g>
<g transform="translate(241.8,808.5)">
<path class="w" d="M-13.500 0V1.300A13.500 4.800 0 0 0 13.500 1.300V0"/>
<ellipse class="w" cx="0" cy="0" rx="13.500" ry="4.800"/>
<ellipse class="k" cx="0" cy="0" rx="8.800" ry="3" style="stroke-width:1.5"/>
<path class="t" d="M-7.500 1A8 2.400 0 0 1 7.500 1"/>
</g>
<g transform="translate(265.4,800.2)">
<path class="w" d="M-13.500 0V1.300A13.500 4.800 0 0 0 13.500 1.300V0"/>
<ellipse class="w" cx="0" cy="0" rx="13.500" ry="4.800"/>
<ellipse class="k" cx="0" cy="0" rx="8.800" ry="3" style="stroke-width:1.5"/>
<path class="t" d="M-7.500 1A8 2.400 0 0 1 7.500 1"/>
</g>
<g transform="translate(293,795.2)">
<path class="w" d="M-13.500 0V1.300A13.500 4.800 0 0 0 13.500 1.300V0"/>
<ellipse class="w" cx="0" cy="0" rx="13.500" ry="4.800"/>
<ellipse class="k" cx="0" cy="0" rx="8.800" ry="3" style="stroke-width:1.5"/>
<path class="t" d="M-7.500 1A8 2.400 0 0 1 7.500 1"/>
</g>
<path class="t" d="M241.800 812V828M265.400 804V820M293 799V815M153.500 833V848"/>
<g transform="translate(153.5,794.7)">
<path class="w" d="M-9.300 7.500V18Q0 21 9.300 18V7.500"/>
<path class="w" d="M-12 0V4A12 4.400 0 0 0 12 4V0"/>
<path class="t" d="M-9.300 7.300Q0 10 9.300 7.300"/>
<ellipse class="w" cx="0" cy="0" rx="12" ry="4.400"/>
<ellipse class="t" cx="0" cy="-.2" rx="7" ry="2.300"/>
<path class="t" d="M-4 -.2L-2 -1.300L0 -.6L2 -1.300L4 -.2L2 .9L0 .2L-2 .9Z"/>
</g>
<g transform="translate(241.8,773.6)">
<path class="w" d="M-9.300 7.500V18Q0 21 9.300 18V7.500"/>
<path class="w" d="M-12 0V4A12 4.400 0 0 0 12 4V0"/>
<path class="t" d="M-9.300 7.300Q0 10 9.300 7.300"/>
<ellipse class="w" cx="0" cy="0" rx="12" ry="4.400"/>
<ellipse class="t" cx="0" cy="-.2" rx="7" ry="2.300"/>
<path class="t" d="M-4 -.2L-2 -1.300L0 -.6L2 -1.300L4 -.2L2 .9L0 .2L-2 .9Z"/>
</g>
<g transform="translate(265.4,766)">
<path class="w" d="M-9.300 7.500V18Q0 21 9.300 18V7.500"/>
<path class="w" d="M-12 0V4A12 4.400 0 0 0 12 4V0"/>
<path class="t" d="M-9.300 7.300Q0 10 9.300 7.300"/>
<ellipse class="w" cx="0" cy="0" rx="12" ry="4.400"/>
<ellipse class="t" cx="0" cy="-.2" rx="7" ry="2.300"/>
<path class="t" d="M-4 -.2L-2 -1.300L0 -.6L2 -1.300L4 -.2L2 .9L0 .2L-2 .9Z"/>
</g>
<g transform="translate(293.5,759.8)">
<path class="w" d="M-9.300 7.500V18Q0 21 9.300 18V7.500"/>
<path class="w" d="M-12 0V4A12 4.400 0 0 0 12 4V0"/>
<path class="t" d="M-9.300 7.300Q0 10 9.300 7.300"/>
<ellipse class="w" cx="0" cy="0" rx="12" ry="4.400"/>
<ellipse class="t" cx="0" cy="-.2" rx="7" ry="2.300"/>
<path class="t" d="M-4 -.2L-2 -1.300L0 -.6L2 -1.300L4 -.2L2 .9L0 .2L-2 .9Z"/>
</g>
</g>
<g id="std_right">
<path class="t" d="M256 857.500L366 890M280.700 844.500L394 879.500M281 849.500L388 883"/>
</g>
<g id="std_plugs">
<g id="std_bot">
<g transform="translate(184.7,968.5)">
<path class="w" d="M-14.700 16V23A14.700 3.600 0 0 0 14.700 23V16"/>
<ellipse class="w" cx="0" cy="16" rx="14.700" ry="3.600"/>
<path class="w" d="M-11 2V15A11 2.800 0 0 0 11 15V2"/>
<ellipse class="w" cx="0" cy="2" rx="11" ry="2.800"/>
</g>
<g transform="translate(256,950)">
<path class="w" d="M-14.700 16V23A14.700 3.600 0 0 0 14.700 23V16"/>
<ellipse class="w" cx="0" cy="16" rx="14.700" ry="3.600"/>
<path class="w" d="M-11 2V15A11 2.800 0 0 0 11 15V2"/>
<ellipse class="w" cx="0" cy="2" rx="11" ry="2.800"/>
</g>
</g>
<g transform="translate(304,932.8)">
<path class="w" d="M-15.0 -14.2A5.0 10.7 0 0 0 -15.0 7.2L-3 10.7L-3 -10.7Z"/>
<ellipse class="w" cx="-4.500" cy="-1.300" rx="12.0" ry="14.8"/>
<path class="w" d="M-4.500 -16.1L0 -14.8A12.0 14.8 0 0 0 0 14.8L-4.500 13.5" style="stroke:none"/>
<ellipse class="w" cx="0" cy="0" rx="12.0" ry="14.8"/>
<path class="k" d="M-5.2 -3.0L0 -6.3L5.2 -3.0V3.0L0 6.3L-5.2 3.0Z" transform="skewY(8)"/>
<path class="t" d="M-3.7 -2.0V4.5L1.5 6.8" transform="skewY(8)"/>
</g>
<g id="plug4">
<g transform="translate(337,900)">
<path class="w" d="M-17.0 -16.2A6.0 12.7 0 0 0 -17.0 9.2L-3 12.7L-3 -12.7Z"/>
<ellipse class="w" cx="-4.500" cy="-1.300" rx="14.4" ry="17.6"/>
<path class="w" d="M-4.500 -18.9L0 -17.6A14.4 17.6 0 0 0 0 17.6L-4.500 16.3" style="stroke:none"/>
<ellipse class="w" cx="0" cy="0" rx="14.4" ry="17.6"/>
<path class="k" d="M-6.1 -3.5L0 -7.4L6.1 -3.5V3.5L0 7.4L-6.1 3.5Z" transform="skewY(8)"/>
<path class="t" d="M-4.6 -2.5V5.0L1.5 7.9" transform="skewY(8)"/>
</g>
</g>
<g transform="translate(479,912)">
<path class="w" d="M-15.0 -14.3A4.9 10.8 0 0 0 -15.0 7.3L-3 10.8L-3 -10.8Z"/>
<ellipse class="w" cx="-4.500" cy="-1.300" rx="11.6" ry="15.0"/>
<path class="w" d="M-4.500 -16.3L0 -15.0A11.6 15.0 0 0 0 0 15.0L-4.500 13.7" style="stroke:none"/>
<ellipse class="w" cx="0" cy="0" rx="11.6" ry="15.0"/>
<path class="k" d="M-5.3 -3.1L0 -6.4L5.3 -3.1V3.1L0 6.4L-5.3 3.1Z" transform="skewY(8)"/>
<path class="t" d="M-3.8 -2.1V4.6L1.5 6.9" transform="skewY(8)"/>
</g>
</g>
<g id="fit58">
<g transform="translate(391.6,879)">
<g transform="rotate(-13)">
<ellipse class="w" cx="-.5" cy="0" rx="9.800" ry="14.300"/>
<ellipse class="t" cx="0" cy="0" rx="9.300" ry="13.700"/>
<ellipse class="w" cx="1" cy="0.200" rx="8.400" ry="13"/>
<ellipse class="w" cx="2" cy="0.300" rx="6.300" ry="10.600" style="stroke-width:1.600"/>
</g>
<path class="t" d="M-2.500 -1.500L2 -.5V10M2 -.5C4 -4 6 -6 8 -6.500"/>
<path class="w" d="M4.500 -5L9.500 -6.300L8.500 7L4 9.500C2.500 5 2.800 -1 4.500 -5Z"/>
<path class="w" d="M24 -2L60 9.300L54.600 26L22 16Z"/>
<g transform="rotate(-13 19.500 6.800)"><ellipse class="w" cx="18.800" cy="6.800" rx="6.200" ry="12.500"/><ellipse class="w" cx="20.300" cy="7" rx="5.600" ry="11.600"/><ellipse class="t" cx="21.600" cy="7.200" rx="4.300" ry="9.600"/></g>
<path class="k" d="M27.500 -.3C23.800 4 23.500 11 25.800 16.500"/>
<path class="w" d="M12.300 -6.300L17.200 -5.500L12.500 6L16.100 18L10.900 17.200L7.600 4.900Z" style="stroke-width:1.300"/>
<path class="k" d="M7.600 4.900L12.500 6" style="stroke-width:1.300"/>
<g transform="rotate(-14 58.600 17.800)"><ellipse class="w" cx="58.600" cy="17.800" rx="6.200" ry="9"/><ellipse class="w" cx="59.200" cy="18" rx="3.500" ry="5.400" style="stroke-width:1.400"/><ellipse class="t" cx="58.600" cy="17.800" rx="5" ry="7.600"/></g>
</g>
<g transform="translate(366.4,892.7)">
<g transform="rotate(-13)">
<ellipse class="w" cx="-.5" cy="0" rx="9.800" ry="14.300"/>
<ellipse class="t" cx="0" cy="0" rx="9.300" ry="13.700"/>
<ellipse class="w" cx="1" cy="0.200" rx="8.400" ry="13"/>
<ellipse class="w" cx="2" cy="0.300" rx="6.300" ry="10.600" style="stroke-width:1.600"/>
</g>
<path class="t" d="M-2.500 -1.500L2 -.5V10M2 -.5C4 -4 6 -6 8 -6.500"/>
<path class="w" d="M4.500 -5L9.500 -6.300L8.500 7L4 9.500C2.500 5 2.800 -1 4.500 -5Z"/>
<path class="w" d="M24 -2L60 9.300L54.600 26L22 16Z"/>
<g transform="rotate(-13 19.500 6.800)"><ellipse class="w" cx="18.800" cy="6.800" rx="6.200" ry="12.500"/><ellipse class="w" cx="20.300" cy="7" rx="5.600" ry="11.600"/><ellipse class="t" cx="21.600" cy="7.200" rx="4.300" ry="9.600"/></g>
<path class="k" d="M27.500 -.3C23.800 4 23.500 11 25.800 16.500"/>
<path class="w" d="M12.300 -6.300L17.200 -5.500L12.500 6L16.100 18L10.900 17.200L7.600 4.900Z" style="stroke-width:1.300"/>
<path class="k" d="M7.600 4.900L12.500 6" style="stroke-width:1.300"/>
<g transform="rotate(-14 58.600 17.800)"><ellipse class="w" cx="58.600" cy="17.800" rx="6.200" ry="9"/><ellipse class="w" cx="59.200" cy="18" rx="3.500" ry="5.400" style="stroke-width:1.400"/><ellipse class="t" cx="58.600" cy="17.800" rx="5" ry="7.600"/></g>
</g>
</g>
<!-- ===== Dbl.Extra panel ===== -->
<use href="#manifold" x="508.2" y="0"/>
<g id="dbl_extra">
<path class="t" d="M764.200 857.500L874.500 890M788.900 844.500L902 879.500M789.200 849.500L896 883"/>
<path class="t" d="M717.200 859L820.900 893M673.700 888.600L886 956.400M692.200 933.300V948M764.200 917V930"/>
<path class="t" d="M693 962V969.500M764 944V950.500"/>
</g>
<use href="#fit58" x="508.200" y="-.5"/>
<g id="dbl_parts">
<!-- inserts (2) -->
<g transform="translate(693,948)"><path class="w" d="M-8.800 2V11.500A8.800 2.300 0 0 0 8.800 11.500V2"/><path class="k" d="M-8.800 10.500A8.800 2.300 0 0 0 8.800 10.500" style="stroke-width:1.5"/><ellipse class="w" cx="0" cy="2" rx="8.800" ry="2.300"/><ellipse cx="0" cy="2.100" rx="5" ry="1.200" fill="#555"/></g>
<g transform="translate(764,930)"><path class="w" d="M-8.800 2V11.500A8.800 2.300 0 0 0 8.800 11.500V2"/><path class="k" d="M-8.800 10.500A8.800 2.300 0 0 0 8.800 10.500" style="stroke-width:1.500"/><ellipse class="w" cx="0" cy="2" rx="8.800" ry="2.300"/><ellipse cx="0" cy="2.100" rx="5" ry="1.200" fill="#555"/></g>
<!-- upper elbow 7 -->
<g id="elbowU">
<path class="t" d="M957 901L967.500 904.500"/>
<path class="w" d="M981 895C974 895.500 969 899 967 903.200C965.500 907 965.500 910 966.400 912.700C968 918 972 922 976 924.200L983 926.100V900Z"/>
<path class="k" d="M978 896.500C973 900 971 907 972.500 914C973.500 918 975 921 977.500 923.500" style="stroke-width:1.4"/>
<path class="t" d="M975.500 897.500C971 901 969.500 908 970.500 914"/>
<path class="w" d="M976 907L985.500 895L994.400 898.100L983 909.600V926.100L976.500 923.600Z"/>
<path class="k" d="M976 907L983 909.600"/>
<path class="w" d="M994.400 898.100L1019.800 898L1021.700 922.300L1019.200 930L1011.600 932.500L995.600 931.200L985.500 923.600V911L983 909.600Z"/>
<path class="k" d="M985.500 911L996 900.500M985.500 911V923.600M986 910.800L992.500 912.700V904.500M1001.400 905.700L1003.300 928.500M1012.800 904.500L1014.600 931.500M1016.700 904L1018.500 930M994.400 898.100L1001.400 905.700L1012.800 904.500L1019.800 898"/>
<path class="w" d="M993.700 879V896.500Q1005 904 1016.500 896.500L1015.400 879Z"/>
<path class="t" d="M994 894Q1005 901 1016.200 894"/>
<ellipse cx="1004.600" cy="878.700" rx="10.800" ry="3.800" fill="#fff" stroke="#000" stroke-width="1.900"/>
<path d="M998.500 880.500Q1005 882.300 1011 880" stroke="#777" stroke-width="1.200" fill="none"/>
</g>
<!-- lower elbow 7 -->
<g id="elbowL">
<g transform="rotate(-12 891 959.700)"><ellipse class="w" cx="891" cy="959.700" rx="5" ry="11.400"/><ellipse class="w" cx="893.800" cy="959.700" rx="5" ry="11.800"/><ellipse class="w" cx="896.500" cy="959.700" rx="5" ry="12"/></g>
<path class="w" d="M895.800 949.800L904 945.700L917 948.200L928.600 982.600L907.300 981L899 971Z"/>
<path class="k" d="M904 945.700L907.300 981M899 971L895.800 949.800"/>
<path class="w" d="M917 948.200L930 951L945 954.700L939.200 981L928.600 984L915 979Z"/>
<path class="k" d="M928.600 984L934 953M922 981L927 951M904 945.700L910 949L907.500 956L909.500 976L928.600 982.600"/>
<path class="w" d="M907.500 956L915 958.500V963.500L908 965Z"/>
<path class="w" d="M928.600 930.500L923.500 948.500Q932 957 944 953.500L949 933.500"/>
<path class="t" d="M925 944Q933 952 945 949"/>
<path d="M928.600 930.500L949 933.500" stroke="#111" stroke-width="1.800" fill="none"/>
</g>
</g>
<g id="dbl_plugs">
<use href="#std_bot" x="508.200"/>
</g>
<use href="#plug4" x="508.200"/>

<g id="rows">
<ellipse class="d2" cx="117.600" cy="1055.6" rx="3" ry="13.600"/><ellipse class="t" cx="118.200" cy="1055.6" rx="1.500" ry="10.500"/>
<path class="t" d="M120 1055.6H139M219 1055.6H289M322.500 1055.6H391"/>
<path class="d2" d="M152 1047.3H143C139.500 1047.3 139.500 1063.8999999999999 143 1063.8999999999999H152M166 1047.3H169M166 1063.8999999999999H169"/>
<path class="d2" d="M146 1047.3V1063.8999999999999M149 1047.3V1063.8999999999999"/>
<path class="d2" d="M155 1041.6H163C167 1041.6 167 1070.1 163 1070.1H155C151.500 1070.1 151.500 1041.6 155 1041.6Z"/>
<path class="d2" d="M159 1041.6C156 1047.6 156 1063.6 159 1070.1M163 1043.6C161 1049.6 161 1061.6 163 1067.6"/>
<path class="k" d="M163.500 1045.6L164.500 1049.6M163.500 1065.6L165 1062.6"/>
<path class="d" d="M169.500 1064.1V1047.3999999999999H216" style="stroke-dasharray:9 3"/><path class="d" d="M169.500 1064.1999999999998H216" style="stroke-dasharray:9 3"/>
<path class="k" d="M215 1047.3999999999999C219 1050.6 219 1060.6 215 1064.1999999999998"/><path class="t" d="M214 1049.1C216.500 1052.6 216.500 1058.6 214 1062.1"/>
<path class="k" d="M288.300 1056.3999999999999Q305 1040.6 322.500 1056.8Q305 1068.6 288.300 1056.3999999999999Z" style="stroke-width:1.4"/>
<path class="k" d="M293 1056.1999999999998Q305 1045.6 317.800 1056.0Q305 1063.1 293 1056.1999999999998Z"/>
<path class="k" d="M288.300 1056.3999999999999Q292 1060.6 300 1062.1M310 1062.1Q318 1061.6 322.500 1056.8"/>
<path class="w" d="M399 1048.3999999999999L421.500 1048.1V1063.6L399 1061.6Z"/>
<circle class="w" cx="397.500" cy="1056.0" r="6.800" style="stroke-width:1.5"/><circle class="k" cx="397.500" cy="1056.0" r="4"/><circle class="t" cx="397.500" cy="1056.0" r="1.800"/>
<path class="k" d="M404 1048.3C407 1052.6 407 1058.6 404 1062.1M413 1048.1999999999998L417 1053.6V1057.6L413 1062.8999999999999M417 1053.6H421.500M417 1057.6H421.500"/>
<path class="w" d="M442 1048.0H453C457.500 1048.0 457.500 1063.6 453 1063.6H442Z"/>
<path class="w" d="M432.500 1045.1H440C444.500 1045.1 444.500 1067.1 440 1067.1H432.500Z"/>
<path class="k" d="M435.500 1045.1C438 1051.6 438 1060.6 435.500 1067.1M438 1045.1C440.500 1051.6 440.500 1060.6 438 1067.1"/>
<path class="w" d="M421.400 1046.6L424 1042.8999999999999H431L432.500 1046.6V1065.1L431 1068.6H424L421.400 1065.1Z"/>
<path class="k" d="M421.400 1053.1H432.500M421.400 1058.6H432.500"/>
<ellipse class="w" cx="452" cy="1056.0" rx="3.600" ry="7.800" style="stroke-width:1.500"/><ellipse class="t" cx="452.300" cy="1056.0" rx="2" ry="5.500"/>
<ellipse class="d2" cx="117.600" cy="1127.4" rx="3" ry="13.600"/><ellipse class="t" cx="118.200" cy="1127.4" rx="1.500" ry="10.500"/>
<path class="t" d="M120 1127.4H139M219 1127.4H289M322.500 1127.4H391"/>
<path class="d2" d="M152 1119.1000000000001H143C139.500 1119.1000000000001 139.500 1135.7 143 1135.7H152M166 1119.1000000000001H169M166 1135.7H169"/>
<path class="d2" d="M146 1119.1000000000001V1135.7M149 1119.1000000000001V1135.7"/>
<path class="d2" d="M155 1113.4H163C167 1113.4 167 1141.9 163 1141.9H155C151.500 1141.9 151.500 1113.4 155 1113.4Z"/>
<path class="d2" d="M159 1113.4C156 1119.4 156 1135.4 159 1141.9M163 1115.4C161 1121.4 161 1133.4 163 1139.4"/>
<path class="k" d="M163.500 1117.4L164.500 1121.4M163.500 1137.4L165 1134.4"/>
<path class="d" d="M169.500 1135.9V1119.2H216" style="stroke-dasharray:9 3"/><path class="d" d="M169.500 1136.0H216" style="stroke-dasharray:9 3"/>
<path class="k" d="M215 1119.2C219 1122.4 219 1132.4 215 1136.0"/><path class="t" d="M214 1120.9C216.500 1124.4 216.500 1130.4 214 1133.9"/>
<path class="k" d="M288.300 1128.2Q305 1112.4 322.500 1128.6000000000001Q305 1140.4 288.300 1128.2Z" style="stroke-width:1.4"/>
<path class="k" d="M293 1128.0Q305 1117.4 317.800 1127.8000000000002Q305 1134.9 293 1128.0Z"/>
<path class="k" d="M288.300 1128.2Q292 1132.4 300 1133.9M310 1133.9Q318 1133.4 322.500 1128.6000000000001"/>
<path class="w" d="M399 1120.2L421.500 1119.9V1135.4L399 1133.4Z"/>
<circle class="w" cx="397.500" cy="1127.8000000000002" r="6.800" style="stroke-width:1.5"/><circle class="k" cx="397.500" cy="1127.8000000000002" r="4"/><circle class="t" cx="397.500" cy="1127.8000000000002" r="1.800"/>
<path class="k" d="M404 1120.1000000000001C407 1124.4 407 1130.4 404 1133.9M413 1120.0L417 1125.4V1129.4L413 1134.7M417 1125.4H421.500M417 1129.4H421.500"/>
<path class="w" d="M442 1119.8000000000002H453C457.500 1119.8000000000002 457.500 1135.4 453 1135.4H442Z"/>
<path class="w" d="M432.500 1116.9H440C444.500 1116.9 444.500 1138.9 440 1138.9H432.500Z"/>
<path class="k" d="M435.500 1116.9C438 1123.4 438 1132.4 435.500 1138.9M438 1116.9C440.500 1123.4 440.500 1132.4 438 1138.9"/>
<path class="w" d="M421.400 1118.4L424 1114.7H431L432.500 1118.4V1136.9L431 1140.4H424L421.400 1136.9Z"/>
<path class="k" d="M421.400 1124.9H432.500M421.400 1130.4H432.500"/>
<ellipse class="w" cx="452" cy="1127.8000000000002" rx="3.600" ry="7.800" style="stroke-width:1.500"/><ellipse class="t" cx="452.300" cy="1127.8000000000002" rx="2" ry="5.500"/>
<path class="t" d="M122 1211.3H129M217 1211.3H226M303 1211.3H309M335 1211.3H347"/>
<ellipse class="w" cx="118" cy="1211.3" rx="4.4" ry="23.6" style="stroke-width:1.15"/><ellipse class="k" cx="118.6" cy="1211.3" rx="2.5" ry="19" style="stroke-width:1.15"/><path class="t" d="M114.8 1198.3C113.8 1206.6 113.8 1216.0 114.8 1224.3"/>
<path class="w" d="M150 1194.0H132C128 1194.0 128 1229.0 132 1229.0H150Z"/>
<path class="k" d="M143 1194.0C141 1203.3 141 1219.3 143 1229.0M146 1194.0L150 1191.3M146 1229.0L150 1231.3"/>
<path class="w" d="M169 1193.6H215C219.500 1201.3 219.500 1221.3 215 1229.0H169Z"/>
<path class="t" d="M213 1193.6C209.500 1203.3 209.500 1219.3 213 1229.0"/>
<path class="w" d="M150 1192.3L153 1189.3H165L169 1192.3V1230.3L165 1233.6H153L150 1230.3Z" style="stroke-width:1.400"/>
<path class="k" d="M151 1213.6H166M165 1189.3C167.500 1201.3 167.500 1221.3 165 1233.6M153 1189.3C150.500 1201.3 150.500 1221.3 153 1233.6"/>
<path class="t" d="M171.500 1194.3C170 1203.3 170 1219.3 171.500 1228.3"/>
<path class="w" d="M281 1193.6H300C304.500 1201.3 304.500 1221.3 300 1228.6H281Z"/>
<path class="t" d="M298.500 1193.6C295.500 1203.3 295.500 1219.3 298.500 1228.6"/>
<path class="w" d="M226 1190.6H276L281 1193.8V1228.8L276 1232.6H226Z"/>
<path class="k" d="M226 1211.3H276M276 1190.6C278.500 1201.3 278.500 1221.3 276 1232.6"/>
<path d="M257 1190.6V1232.6" stroke="#000" stroke-width="2.200" fill="none"/>
<ellipse class="w" cx="313" cy="1211.3" rx="4.4" ry="23.3" style="stroke-width:1.15"/><ellipse class="k" cx="313.6" cy="1211.3" rx="2.5" ry="19" style="stroke-width:1.15"/><path class="t" d="M309.8 1198.5C308.8 1206.6 308.8 1216.0 309.8 1224.1"/>
<ellipse cx="330" cy="1210.8" rx="6.500" ry="21.800" fill="#fff" stroke="#000" stroke-width="1.700"/><ellipse cx="330.300" cy="1210.8" rx="3.500" ry="16.400" fill="#fff" stroke="#000" stroke-width="1.500"/>
<path class="w" d="M353.500 1189.3H349.500C345.500 1199.3 345.500 1223.3 349.500 1234.0H353.500Z"/>
<path class="w" d="M384 1189.3H403Q407 1189.3 407 1194.3V1229.3Q407 1234.0 403 1234.0H384Z"/>
<path class="w" d="M407 1198.3L411 1202.8L414.500 1205.3H417.800V1217.8H414.500L411 1220.3L407 1225.3Z"/><path class="t" d="M411 1202.8V1220.3"/>
<path class="w" d="M369.800 1189.3H384V1234.0H369.800Z"/>
<path class="k" d="M373 1189.3C375 1201.3 375 1221.3 373 1234.0M376.500 1189.3C378.500 1201.3 378.500 1221.3 376.500 1234.0M380 1189.3C382 1201.3 382 1221.3 380 1234.0M383.500 1189.3C385.500 1201.3 385.500 1221.3 383.500 1234.0" style="stroke-width:1.300"/>
<path class="w" d="M353.500 1188.8L356 1186.0H367L369.800 1188.8V1234.3L367 1237.3H356L353.500 1234.3Z" style="stroke-width:1.300"/>
<path class="k" d="M354 1200.8H369M354 1223.3H369M367 1186.0C369.500 1199.3 369.500 1223.3 367 1237.3M356 1186.0C353.800 1199.3 353.800 1223.3 356 1237.3"/>
<path d="M448.500 1190.0H501.800V1185.0Q504.500 1184.0 507.300 1185.0V1190.8C515 1197.3 519.300 1204.3 519.300 1212.3C519.300 1221.3 512 1229.3 503 1233.6H448.500Q445 1233.6 445 1229.8V1193.8Q445 1190.0 448.500 1190.0Z" fill="#fff" stroke="#000" stroke-width="1.500"/>
<path d="M325.500 1230.3C350 1253.3 390 1267.8 422 1267.8C460 1267.8 505 1249.3 518.500 1217.3" fill="none" stroke="#000" stroke-width="1.500"/>
<path d="M332.700 1232.8C354 1251.3 392 1263.5 422 1263.5C452 1263.5 485 1251.3 503 1233.6" fill="none" stroke="#000" stroke-width="1.500"/>
<path class="t" d="M171 1324.6H180M214 1324.6H222M233.600 1324.6H241M259.600 1324.6H265M276 1324.6H281.600M366.500 1324.6H372M380 1324.6H396"/>
<path class="k" d="M115.600 1276.6Q126 1272.6 137.600 1276.6V1287.6M115.600 1276.6V1287.6M115.600 1278.6Q126 1275.6 137.600 1278.6" style="stroke-width:1.300"/>
<path class="d2" d="M117 1284.6Q126 1287.6 136 1284.6"/>
<path class="k" d="M110.400 1289.1Q126 1284.6 143 1289.1Q126 1294.6 110.400 1289.1ZM110.400 1291.6Q126 1297.6 143 1291.6M112 1293.6Q126 1299.6 141.500 1293.6" style="stroke-width:1.200"/>
<path class="d2" d="M109 1297.6V1305.6H114V1338.1H145V1316.6M143 1295.6C146 1297.6 146 1302.6 146 1305.6L145 1316.6M109 1297.6Q111 1294.6 114 1294.6"/>
<path class="d2" d="M114 1299.6H124M130 1299.6H140M118 1305.6V1333.6M114 1333.6H142M127 1294.6V1312.6M121 1312.6H137M133 1312.6L139 1307.6M138 1318.6L132 1324.6L137 1325.6"/>
<path class="d2" d="M167 1314.3H150C147 1314.3 147 1335.6 150 1335.6H167"/>
<path class="k" d="M164 1314.3H167M167 1335.6H164"/><ellipse class="k" cx="168.500" cy="1324.8999999999999" rx="2.200" ry="10.600"/>
<path class="k" d="M179 1325.6Q196 1308.6 214 1326.1Q196 1338.1 179 1325.6Z" style="stroke-width:1.400"/>
<path class="k" d="M184 1325.3999999999999Q196 1314.1 209 1325.1999999999998Q196 1332.6 184 1325.3999999999999Z"/>
<path class="k" d="M179 1325.6Q183 1330.6 191 1331.6M201 1331.6Q209 1331.1 214 1326.1"/>
<path d="M224 1310.0H231C234.500 1316.6 234.500 1332.6 231 1339.6H224Q222 1339.6 222 1337.6V1312.0Q222 1310.0 224 1310.0Z" fill="#fff" stroke="#000" stroke-width="1.600"/>
<path class="k" d="M222 1324.0H232.500M229 1310.0C231.500 1316.6 231.500 1332.6 229 1339.6"/>
<path class="d2" d="M259.600 1300.0H243C240 1309.6 240 1339.6 243 1349.3999999999999H259.600ZM249 1300.0C247 1309.6 247 1339.6 249 1349.3999999999999"/>
<ellipse class="t" cx="251.600" cy="1325.0" rx="2.400" ry="10"/>
<ellipse cx="269.500" cy="1324.6" rx="4.600" ry="17" fill="#fff" stroke="#000" stroke-width="1.300"/><ellipse cx="271.300" cy="1324.6" rx="4.600" ry="17" fill="#fff" stroke="#000" stroke-width="1.300"/><ellipse cx="271.500" cy="1324.6" rx="2.400" ry="12" fill="#fff" stroke="#000" stroke-width="1.500"/>
<path class="w" d="M333 1313.6H284.500Q281.600 1313.6 281.600 1316.6V1333.1Q281.600 1336.0 284.500 1336.0H333Z"/>
<path class="w" d="M351.300 1313.6H364.500C368 1318.6 368 1330.6 364.500 1335.6H351.300Z"/>
<path class="t" d="M363 1313.6C360 1318.6 360 1330.6 363 1335.6M353.500 1313.6C352.300 1318.6 352.300 1330.6 353.500 1335.6"/>
<path d="M332.700 1312.6L335.500 1310.0H348.500L351.300 1312.6V1337.1L348.500 1339.8999999999999H335.500L332.700 1337.1Z" fill="#fff" stroke="#000" stroke-width="1.500"/>
<path class="k" d="M333 1323.6H349.500M348.500 1310.0C350.500 1317.6 350.500 1331.6 348.500 1339.8999999999999M335.500 1310.0C334 1317.6 334 1331.6 335.500 1339.8999999999999"/>
<ellipse cx="375.700" cy="1324.6" rx="4" ry="15.700" fill="#fff" stroke="#111" stroke-width="1.200"/><ellipse cx="376.300" cy="1324.6" rx="2.100" ry="12" fill="#fff" stroke="#111" stroke-width="1.200"/>
<ellipse cx="388.800" cy="1323.6" rx="4.400" ry="13.500" fill="#fff" stroke="#000" stroke-width="1.600"/><ellipse cx="389" cy="1323.6" rx="2" ry="9.800" fill="#fff" stroke="#000" stroke-width="1.300"/>
<path class="w" d="M409 1311.1H420V1338.1H409Z"/>
<path class="w" d="M420 1312.6H427.600V1335.6H420Z"/>
<path class="w" d="M427.600 1311.1H443Q446.200 1311.1 446.200 1314.6V1334.6Q446.200 1338.1 443 1338.1H427.600Z"/>
<path class="w" d="M446.200 1316.1L450 1319.1L452.500 1320.6H455.400V1328.6H452.500L450 1330.1L446.200 1333.1Z"/>
<path class="k" d="M418 1311.1C419.500 1317.6 419.500 1331.6 418 1338.1M429.500 1311.1C431 1317.6 431 1331.6 429.500 1338.1M422.500 1312.6C423.500 1318.6 423.500 1330.6 422.500 1335.6"/>
<path class="w" d="M396 1311.6L398 1309.3999999999999H407L409 1311.6V1337.6L407 1339.8999999999999H398L396 1337.6Z" style="stroke-width:1.300"/>
<path class="k" d="M396 1317.6H408.500M396 1331.6H408.500M407 1309.3999999999999C408.700 1317.6 408.700 1331.6 407 1339.8999999999999"/>
<path d="M464 1310.5H497.500V1308.3Q499 1307.3 500.700 1308.3V1311.1C505.500 1315.6 508.400 1319.6 508.400 1324.6C508.400 1330.6 503 1336.1 496.400 1339.3H464Q461 1339.3 461 1336.1V1313.6Q461 1310.5 464 1310.5Z" fill="#fff" stroke="#000" stroke-width="1.500"/>
<path d="M385 1335.1C400 1349.6 420 1359.6 439.600 1359.6C465 1359.6 497 1348.6 507.500 1328.6" fill="none" stroke="#000" stroke-width="1.400"/>
<path d="M390.500 1336.1C404 1347.6 421 1356.1 439.600 1356.1C460 1356.1 483 1348.6 496.400 1339.3" fill="none" stroke="#000" stroke-width="1.400"/>
<path class="t" d="M171 1418.5H180M214 1418.5H222M233.600 1418.5H241M259.600 1418.5H265M276 1418.5H281.600M366.500 1418.5H372M380 1418.5H396"/>
<path class="k" d="M115.600 1370.5Q126 1366.5 137.600 1370.5V1381.5M115.600 1370.5V1381.5M115.600 1372.5Q126 1369.5 137.600 1372.5" style="stroke-width:1.300"/>
<path class="d2" d="M117 1378.5Q126 1381.5 136 1378.5"/>
<path class="k" d="M110.400 1383.0Q126 1378.5 143 1383.0Q126 1388.5 110.400 1383.0ZM110.400 1385.5Q126 1391.5 143 1385.5M112 1387.5Q126 1393.5 141.500 1387.5" style="stroke-width:1.200"/>
<path class="d2" d="M109 1391.5V1399.5H114V1432.0H145V1410.5M143 1389.5C146 1391.5 146 1396.5 146 1399.5L145 1410.5M109 1391.5Q111 1388.5 114 1388.5"/>
<path class="d2" d="M114 1393.5H124M130 1393.5H140M118 1399.5V1427.5M114 1427.5H142M127 1388.5V1406.5M121 1406.5H137M133 1406.5L139 1401.5M138 1412.5L132 1418.5L137 1419.5"/>
<path class="d2" d="M167 1408.2H150C147 1408.2 147 1429.5 150 1429.5H167"/>
<path class="k" d="M164 1408.2H167M167 1429.5H164"/><ellipse class="k" cx="168.500" cy="1418.8" rx="2.200" ry="10.600"/>
<path class="k" d="M179 1419.5Q196 1402.5 214 1420.0Q196 1432.0 179 1419.5Z" style="stroke-width:1.400"/>
<path class="k" d="M184 1419.3Q196 1408.0 209 1419.1Q196 1426.5 184 1419.3Z"/>
<path class="k" d="M179 1419.5Q183 1424.5 191 1425.5M201 1425.5Q209 1425.0 214 1420.0"/>
<path d="M224 1403.9H231C234.500 1410.5 234.500 1426.5 231 1433.5H224Q222 1433.5 222 1431.5V1405.9Q222 1403.9 224 1403.9Z" fill="#fff" stroke="#000" stroke-width="1.600"/>
<path class="k" d="M222 1417.9H232.500M229 1403.9C231.500 1410.5 231.500 1426.5 229 1433.5"/>
<path class="d2" d="M259.600 1393.9H243C240 1403.5 240 1433.5 243 1443.3H259.600ZM249 1393.9C247 1403.5 247 1433.5 249 1443.3"/>
<ellipse class="t" cx="251.600" cy="1418.9" rx="2.400" ry="10"/>
<ellipse cx="269.500" cy="1418.5" rx="4.600" ry="17" fill="#fff" stroke="#000" stroke-width="1.300"/><ellipse cx="271.300" cy="1418.5" rx="4.600" ry="17" fill="#fff" stroke="#000" stroke-width="1.300"/><ellipse cx="271.500" cy="1418.5" rx="2.400" ry="12" fill="#fff" stroke="#000" stroke-width="1.500"/>
<path class="w" d="M333 1407.5H284.500Q281.600 1407.5 281.600 1410.5V1427.0Q281.600 1429.9 284.500 1429.9H333Z"/>
<path class="w" d="M351.300 1407.5H364.500C368 1412.5 368 1424.5 364.500 1429.5H351.300Z"/>
<path class="t" d="M363 1407.5C360 1412.5 360 1424.5 363 1429.5M353.500 1407.5C352.300 1412.5 352.300 1424.5 353.500 1429.5"/>
<path d="M332.700 1406.5L335.500 1403.9H348.500L351.300 1406.5V1431.0L348.500 1433.8H335.500L332.700 1431.0Z" fill="#fff" stroke="#000" stroke-width="1.500"/>
<path class="k" d="M333 1417.5H349.500M348.500 1403.9C350.500 1411.5 350.500 1425.5 348.500 1433.8M335.500 1403.9C334 1411.5 334 1425.5 335.500 1433.8"/>
<ellipse cx="375.700" cy="1418.5" rx="4" ry="15.700" fill="#fff" stroke="#111" stroke-width="1.200"/><ellipse cx="376.300" cy="1418.5" rx="2.100" ry="12" fill="#fff" stroke="#111" stroke-width="1.200"/>
<ellipse cx="388.800" cy="1417.5" rx="4.400" ry="13.500" fill="#fff" stroke="#000" stroke-width="1.600"/><ellipse cx="389" cy="1417.5" rx="2" ry="9.800" fill="#fff" stroke="#000" stroke-width="1.300"/>
<path class="w" d="M409 1405.0H420V1432.0H409Z"/>
<path class="w" d="M420 1406.5H427.600V1429.5H420Z"/>
<path class="w" d="M427.600 1405.0H443Q446.200 1405.0 446.200 1408.5V1428.5Q446.200 1432.0 443 1432.0H427.600Z"/>
<path class="w" d="M446.200 1410.0L450 1413.0L452.500 1414.5H455.400V1422.5H452.500L450 1424.0L446.200 1427.0Z"/>
<path class="k" d="M418 1405.0C419.500 1411.5 419.500 1425.5 418 1432.0M429.500 1405.0C431 1411.5 431 1425.5 429.500 1432.0M422.500 1406.5C423.500 1412.5 423.500 1424.5 422.500 1429.5"/>
<path class="w" d="M396 1405.5L398 1403.3H407L409 1405.5V1431.5L407 1433.8H398L396 1431.5Z" style="stroke-width:1.300"/>
<path class="k" d="M396 1411.5H408.500M396 1425.5H408.500M407 1403.3C408.700 1411.5 408.700 1425.5 407 1433.8"/>
<path d="M464 1404.4H497.500V1402.2Q499 1401.2 500.700 1402.2V1405.0C505.500 1409.5 508.400 1413.5 508.400 1418.5C508.400 1424.5 503 1430.0 496.400 1433.2H464Q461 1433.2 461 1430.0V1407.5Q461 1404.4 464 1404.4Z" fill="#fff" stroke="#000" stroke-width="1.500"/>
<path d="M385 1429.0C400 1443.5 420 1453.5 439.600 1453.5C465 1453.5 497 1442.5 507.500 1422.5" fill="none" stroke="#000" stroke-width="1.400"/>
<path d="M390.500 1430.0C404 1441.5 421 1450.0 439.600 1450.0C460 1450.0 483 1442.5 496.400 1433.2" fill="none" stroke="#000" stroke-width="1.400"/>
</g>
<!-- ===== Standard Extra mini assembly ===== -->
<defs>
<g id="ministar"><path class="t" d="M-3 -1.300L-1.300 -3.300L1 -2.800L3 -1L2.600 1.500L.8 3.300L-1.600 2.800L-3.300 1Z" style="stroke-dasharray:2 1"/></g>
<g id="miniscrew"><path class="w" d="M-10.200 0V2.200A10.200 3.700 0 0 0 10.200 2.200V0" style="stroke-width:.9"/><ellipse class="w" cx="0" cy="0" rx="10.200" ry="3.700" style="stroke-width:.9"/><ellipse class="t" cx="0" cy="-.2" rx="5.500" ry="1.900"/><path class="t" d="M-3 -.2L-1.500 -1L0 -.4L1.500 -1L3 -.2L1.500 .7L0 .2L-1.500 .7Z"/></g>
</defs>
<g id="sx_base">
<!-- bottom plug hints -->
<path class="d2" d="M640 1192C642 1196 650 1197 654 1196M690 1228C700 1231 712 1230 718 1226M726 1217C734 1221 748 1221 760 1216"/>
<!-- manifold -->
<path class="w" d="M604.300 1123.500L773.900 1103L776.700 1107.700V1140L740 1150L700 1168L652 1190.600L623.900 1195.300L601.500 1188.800V1126.300Z"/>
<path class="k" d="M601.500 1126.300L623.900 1132.900L776.700 1107.700M623.900 1132.900V1195.300"/>
<path class="t" d="M601.500 1186L623.900 1192.500M604 1124.800L624.500 1131"/>
<ellipse class="k" cx="607.700" cy="1159" rx="4.700" ry="6.500"/>
<!-- top screws -->
<use href="#miniscrew" x="626.700" y="1119.500"/>
<ellipse class="k" cx="654.600" cy="1118.900" rx="12" ry="3.800"/><ellipse class="k" cx="654.600" cy="1119.100" rx="7.500" ry="2.300" style="stroke-width:1.400"/><ellipse class="t" cx="654.600" cy="1119.100" rx="3.500" ry="1.100"/>
<ellipse class="f" cx="638.500" cy="1122.800" rx="1.300" ry=".6"/>
<use href="#miniscrew" x="705.900" y="1108.400"/>
<use href="#miniscrew" x="728" y="1102.800"/>
<use href="#miniscrew" x="751.500" y="1099"/>
<!-- front plugs -->
<g transform="translate(681.700,1134.700) rotate(-12)"><ellipse class="d" cx="-1.500" cy="0" rx="12.500" ry="15" style="stroke-dasharray:12 3"/><ellipse class="k" cx="1" cy="0" rx="9.500" ry="12.500"/><use href="#ministar" transform="scale(1.5)"/></g>
<g transform="translate(641.600,1157.100) rotate(-12)"><ellipse class="d" cx="-1.500" cy="0" rx="10.500" ry="13" style="stroke-dasharray:10 3"/><ellipse class="k" cx="1" cy="0" rx="8" ry="10.800"/><use href="#ministar" transform="scale(1.3)"/></g>
<g transform="translate(699.400,1127.300) rotate(-12)"><ellipse class="k" cx="0" cy="0" rx="7" ry="9"/><ellipse class="d2" cx="0.500" cy="0" rx="4.500" ry="6"/><use href="#ministar" transform="scale(.8)"/></g>
<ellipse class="k" cx="699.400" cy="1149.600" rx="7" ry="10"/><path class="t" d="M696 1141.500C698.500 1146 698.500 1153 696 1157.500"/>
<g font-size="4.5" font-weight="bold" style="fill:#111"><text x="626" y="1146">GB</text><text x="661" y="1130">DR</text><text x="720" y="1120">LC</text><text x="746" y="1111">LO</text><text x="768" y="1126">BR</text></g>
<!-- fittings -->
<path class="w" d="M744 1131L746 1118L777.600 1126.300L772 1139.400Z"/>
<g transform="rotate(-14 736.600 1120.700)"><ellipse class="w" cx="736.600" cy="1120.700" rx="3.800" ry="8.600"/><ellipse class="w" cx="739" cy="1121" rx="3.500" ry="7.500"/></g>
<path class="w" d="M738 1115.500L746.500 1117.800L744.500 1131L737.500 1128Z"/>
<g transform="rotate(-14 774.800 1133.800)"><ellipse class="w" cx="774.800" cy="1133.800" rx="4.700" ry="7" style="stroke-width:1.300"/><ellipse class="k" cx="775.200" cy="1134" rx="2.600" ry="4.300"/></g>
<path class="w" d="M721.700 1126.300L755.300 1136.600L749.700 1149.600L721.700 1144Z"/>
<g transform="rotate(-14 713.300 1134.700)"><ellipse class="w" cx="711.800" cy="1134.700" rx="4.700" ry="10.500" style="stroke-width:1.400"/><ellipse class="w" cx="714.800" cy="1134.700" rx="4.500" ry="10"/><ellipse class="w" cx="718.500" cy="1135" rx="4" ry="9"/></g>
<path class="w" d="M719 1127L723 1126.500L722.500 1144.300L718 1143.500Z" style="stroke:none"/>
<path class="k" d="M720 1126.500C723.500 1130 723.500 1140 720.500 1144"/>
<g transform="rotate(-14 752.500 1142.200)"><ellipse class="w" cx="752.500" cy="1142.200" rx="5.200" ry="7.500" style="stroke-width:1.300"/><ellipse class="k" cx="753" cy="1142.400" rx="2.800" ry="4.600"/></g>
<!-- behind-block line -->
<path class="k" d="M703 1159.900L725.500 1145.900"/>
</g>
<g id="sx_blocks">
<!-- block B -->
<path class="w" d="M723.600 1164.500L745 1166.400L759 1155.200L786 1151.500L777 1139.500L752 1150L725.500 1146L712 1156Z" style="stroke:none"/>
<path class="k" d="M786 1151.500L777 1139.500"/>
<path class="w" d="M723.600 1164.500L734.800 1163.500L745 1166.400L759 1155.200L786 1151.500V1201.800L757.100 1211.100L744.100 1214.900L725.500 1213.900Z"/>
<path class="k" d="M745 1166.400V1214.500M757.100 1158.500V1211.100M734.800 1163.500V1214.200M723.600 1164.500L725.500 1213.900"/>
<circle class="k" cx="780.400" cy="1159.900" r="4"/><circle class="k" cx="780.400" cy="1159.900" r="2"/>
<path class="t" d="M723.600 1170C729 1172 730 1186 724.500 1188.500"/><use href="#ministar" x="722" y="1178"/>
<!-- block A -->
<path class="w" d="M652.400 1158L669.500 1153.400L721.700 1164.500V1213L686.300 1227L652.400 1217.700Z"/>
<path class="k" d="M652.400 1158L692.800 1167.300L721.700 1164.500M692.800 1167.300V1214.900L686.300 1227M692.800 1214.900L721.700 1205"/>
<ellipse class="k" cx="679.800" cy="1192.500" rx="13" ry="20.500" transform="rotate(-8 679.800 1192.500)" style="stroke-width:1.400"/>
<ellipse class="k" cx="681.300" cy="1192.500" rx="8.400" ry="15" transform="rotate(-8 681.300 1192.500)"/>
<path class="t" d="M686 1181C689 1186 689 1198 686.500 1203"/>
<circle class="k" cx="698.400" cy="1173.900" r="3.800"/><circle class="k" cx="698.400" cy="1173.900" r="1.900"/>
</g>

<!-- ===== Dbl.Extra mini assembly ===== -->
<use href="#sx_base" x="281.300" y="0"/>
<!-- right elbow dashed (behind blocks) -->
<g id="dx_elbowR">
<path d="M1050 1108V1124L1048 1127V1150L1071 1151L1073 1126L1069 1124V1108Z" fill="#fff" stroke="none"/>
<path class="d2" d="M1050 1108V1124M1069 1108V1125M1050 1124Q1059 1128 1069 1124.500M1069 1125L1073 1127L1071 1151M1065 1128V1150M1068.500 1128V1150"/>
<ellipse class="k" cx="1059.500" cy="1107.400" rx="9.400" ry="3"/><path d="M1055 1108.500Q1060 1110 1065 1108.500" stroke="#555" stroke-width="1.200" fill="none"/>
<g transform="rotate(-14 1055.600 1134)"><ellipse class="w" cx="1055.600" cy="1134" rx="5.200" ry="7.600" style="stroke-width:1.300"/><ellipse class="k" cx="1056" cy="1134.200" rx="2.800" ry="4.600"/></g>
</g>
<use href="#sx_blocks" x="281.300" y="0"/>
<!-- left elbow dashed -->
<g id="dx_elbowL">
<path d="M943 1127L958 1131.500L952 1162L940 1170L920 1170L912 1160L914 1148L930 1146Z" fill="#fff" stroke="none"/>
<path class="d2" d="M943 1126L958.500 1131.500M943 1126L938 1147M958.500 1131.500L953 1156M939 1139L955 1143.500M938 1147L954 1152"/>
<path class="d2" d="M938 1147C930 1144 920 1146 915 1150M952 1162L947 1170C940 1174 930 1172 922 1168"/>
<path class="d2" d="M928 1147V1170M934 1149V1171M940 1152L941 1170M946 1156L945 1170"/>
<g transform="rotate(-14 916.300 1158)"><ellipse class="d2" cx="916.300" cy="1158" rx="4.600" ry="12"/><ellipse class="k" cx="918.500" cy="1158" rx="4.400" ry="11.500"/><ellipse class="d2" cx="921.500" cy="1158" rx="4.400" ry="11.500"/></g>
<path class="k" d="M957 1132C962 1132 966 1136 967 1140"/>
</g>

<g id="mech">
<path class="d" d="M685 1322C686 1319 690 1318 694 1317.500L711.700 1314L778 1329.500M685 1322L690 1328L716 1334" style="stroke-dasharray:11 2.5"/>
<path class="d" d="M650.600 1334.400L632 1339C625 1340.500 623.500 1347 627.700 1351L699 1371.300M650.600 1334.400L716.800 1351" style="stroke-dasharray:11 2.5"/>
<path class="d2" d="M653 1328L658 1325.500L672 1327L681 1330L676 1334L660 1332ZM660 1327V1332M668 1326.500V1332.500"/>
<circle class="k" cx="675.300" cy="1355.500" r="4.600"/><path class="k" d="M675.300 1351V1358M675.300 1354.500L679 1357"/>
<path class="d" d="M672.300 1373.800L676 1371L700 1375M672.300 1373.800L674 1377L734.600 1390.500L816 1375.500L817 1372L806 1368M676 1379L734.600 1387.800L812 1373" style="stroke-dasharray:11 2.5"/>
<path class="d2" d="M728 1381L736 1378L748 1381L746 1388L732 1390Z"/>
<path class="d" d="M706.600 1326.700L884.800 1363.600L880 1367.500L706 1330.500M708 1324L760 1334" style="stroke-dasharray:14 3"/>
<path class="k" d="M707 1322.500C704 1324 704 1329 707 1330.500"/>
<path class="t" d="M768.0 1328.2L769.6 1335.8M771.5 1329.0L773.1 1336.6M775.0 1329.9L776.6 1337.5M778.5 1330.8L780.1 1338.3M782.0 1331.6L783.6 1339.2M785.5 1332.5L787.1 1340.0M789.0 1333.3L790.6 1340.9M792.5 1334.2L794.1 1341.8M796.0 1335.0L797.6 1342.6M799.5 1335.9L801.1 1343.5M803.0 1336.7L804.6 1344.3" style="stroke-width:1;stroke:#000"/>
<path class="k" d="M768 1328.200L803 1336.700M769.500 1335.800L804.500 1344.300"/>
<path class="k" d="M768 1328C765 1329 765 1335 768.500 1336M772 1326.500C776 1325.500 780 1327 782 1330"/>
<path class="d2" d="M806 1338L812 1337L816 1340L814 1346L808 1345"/>
<path class="w" d="M716.800 1343.300L722 1340L748 1347V1358L718 1352Z"/>
<path class="k" d="M716.800 1343.300C713 1345 712 1352 715 1356M722 1340C726 1340 728 1343 727 1347"/>
<path class="w" d="M708 1353L748 1360V1380L708 1371.500Z" style="stroke:none"/>
<path class="t" d="M709.0 1353.0L711.6 1370.0M712.5 1353.7L715.1 1370.7M715.9 1354.5L718.5 1371.5M719.4 1355.2L722.0 1372.2M722.8 1355.9L725.4 1372.9M726.3 1356.6L728.9 1373.6M729.7 1357.4L732.3 1374.4M733.2 1358.1L735.8 1375.1M736.6 1358.8L739.2 1375.8M740.1 1359.5L742.7 1376.5M743.5 1360.3L746.1 1377.3M747.0 1361.0L749.6 1378.0" style="stroke-width:1.05;stroke:#000"/>
<path class="k" d="M709 1353L747 1361M711.500 1370L749.500 1378"/>
<ellipse class="w" cx="707.500" cy="1361.500" rx="3" ry="9" style="stroke-width:1.3"/><path class="k" d="M704 1355C702 1359 702 1365 704.500 1369"/>
<path class="w" d="M744.800 1352L750 1349.600L757.500 1351.500V1380L752 1384L744.800 1382Z" style="stroke-width:1.300"/>
<path class="k" d="M750 1349.600V1383M744.800 1365H757.500M757.500 1358L762 1357V1364L757.500 1366"/>
<circle class="w" cx="790.600" cy="1362.400" r="11.500" style="stroke-width:1.300"/>
<path class="k" d="M781 1356C786 1350 796 1350 800 1357M783 1368C788 1373 796 1373 800 1367"/>
<circle class="k" cx="794" cy="1366" r="4.500" style="stroke-width:1.400"/><circle class="k" cx="795" cy="1367" r="2"/>
<path class="k" d="M762 1356C766 1352 772 1354 772 1360C772 1366 766 1368 762 1365"/><ellipse class="k" cx="767.500" cy="1362" rx="3" ry="4.500"/>
<path class="k" d="M772 1372L780 1374M766 1370V1378"/>
<circle class="k" cx="812" cy="1361" r="3.500"/><circle class="k" cx="812.500" cy="1361.500" r="1.500"/><path class="d2" d="M804 1356L816 1354L820 1360L817 1366"/>
<path class="k" d="M779 1358C782 1352 790 1349 797 1352M800 1370C797 1375 789 1376 783 1373M786 1360C788 1356 794 1356 797 1359M776 1364L781 1366M800 1360L806 1358M758 1349L764 1347L770 1349M733 1343L742 1345.500M722 1345.500V1350M748 1347C752 1347 754 1350 753 1353" style="stroke-width:1.1"/>
<path class="d2" d="M700 1340L716 1343M690 1336L700 1332L716 1336M640 1345L660 1350M690 1362L700 1365"/>
</g>
<path d="M0 725.5H1100M0 1001.5H1100" stroke="#9a9a9a" stroke-width="1.2" fill="none"/>
<g transform="translate(251,18) scale(1.0)"><path d="M0 0L-5.7 -14.2" stroke="#000" stroke-width="2.1" fill="none" stroke-linecap="round"/><path d="M-8.4 -17.5A2.4 2.4 0 1 0 -5.5 -18.6" stroke="#000" stroke-width="1.9" fill="none" stroke-linecap="butt"/></g>
<text transform="translate(253.5,12.5) scale(0.86,1)" x="-1.86 8.49" font-size="18.5" >15</text>
<text transform="translate(461.5,18) scale(0.86,1)" x="-1.86 8.49" font-size="18.5" >16</text>
<path class="t" d="M458.0 11.5L426.0 11.5"/>
<path class="f" d="M417.0 11.5L426.0 9.2L426.0 13.8Z"/>
<text transform="translate(325.5,56) scale(0.86,1)" x="-1.86 8.49" font-size="18.5" >14</text>
<path class="t" d="M321.7 49.5L273.7 49.5"/>
<path class="f" d="M264.7 49.5L273.7 47.2L273.7 51.8Z"/>
<path class="t" d="M345.8 49.5L394.7 49.5"/>
<path class="f" d="M403.7 49.5L394.7 51.8L394.7 47.2Z"/>
<g transform="translate(188,539.5) scale(1.0)"><path d="M0 0L-5.7 -14.2" stroke="#000" stroke-width="2.1" fill="none" stroke-linecap="round"/><path d="M-8.4 -17.5A2.4 2.4 0 1 0 -5.5 -18.6" stroke="#000" stroke-width="1.9" fill="none" stroke-linecap="butt"/></g>
<text transform="translate(192,534.6) scale(0.86,1)" x="-1.86" font-size="18.5" >1</text>
<path class="t" d="M188.0 539.5L255.5 539.5"/>
<path class="f" d="M264.5 539.5L255.5 541.8L255.5 537.2Z"/>
<text transform="translate(192.3,507.5) scale(0.86,1)" x="-1.86 8.49 19.88 25.35 35.70" font-size="18.5" >17-19</text>
<path class="t" d="M232.0 501.5L284.5 501.5"/>
<path class="f" d="M293.5 501.5L284.5 503.8L284.5 499.2Z"/>
<text transform="translate(406,528.2) scale(0.86,1)" x="0.00 11.74" font-size="18.5" >20</text>
<path class="t" d="M401.4 521.5L357.0 521.5"/>
<path class="f" d="M348.0 521.5L357.0 519.2L357.0 523.8Z"/>
<text transform="translate(406,556) scale(0.86,1)" x="0.00 9.88" font-size="18.5" >21</text>
<path class="t" d="M401.4 549.5L326.0 549.5"/>
<path class="f" d="M317.0 549.5L326.0 547.2L326.0 551.8Z"/>
<text transform="translate(406,579.8) scale(0.86,1)" x="0.00 11.74" font-size="18.5" >22</text>
<path class="t" d="M401.4 572.5L323.8 572.5"/>
<path class="f" d="M314.8 572.5L323.8 570.2L323.8 574.8Z"/>
<text transform="translate(406,609) scale(0.86,1)" x="0.00 11.74" font-size="18.5" >23</text>
<path class="t" d="M401.4 601.5L316.5 601.5"/>
<path class="f" d="M307.5 601.5L316.5 599.2L316.5 603.8Z"/>
<text transform="translate(406,640.2) scale(0.86,1)" x="0.00 11.74" font-size="18.5" >24</text>
<path class="t" d="M401.4 633.5L329.2 633.5"/>
<path class="f" d="M320.2 633.5L329.2 631.2L329.2 635.8Z"/>
<text transform="translate(406,668) scale(0.86,1)" x="0.00 9.88" font-size="18.5" >21</text>
<path class="t" d="M401.4 661.5L304.7 661.5"/>
<path class="f" d="M295.7 661.5L304.7 659.2L304.7 663.8Z"/>
<text transform="translate(406,700.7) scale(0.86,1)" x="0.00 11.74" font-size="18.5" >26</text>
<path class="t" d="M401.4 694.5L301.0 694.5"/>
<path class="f" d="M292.0 694.5L301.0 692.2L301.0 696.8Z"/>
<text transform="translate(186,626.5) scale(0.86,1)" x="0.00 11.74" font-size="18.5" >25</text>
<path class="t" d="M207.3 619.5L211.6 619.5"/>
<path class="f" d="M220.6 619.5L211.6 621.8L211.6 617.2Z"/>
<text transform="translate(186,700.7) scale(0.86,1)" x="0.00 11.74" font-size="18.5" >27</text>
<path class="t" d="M207.3 694.5L267.6 694.5"/>
<path class="f" d="M276.6 694.5L267.6 696.8L267.6 692.2Z"/>
<g transform="translate(183.9,251.8) scale(1.0)"><path d="M0 0L-5.7 -14.2" stroke="#000" stroke-width="2.1" fill="none" stroke-linecap="round"/><path d="M-8.4 -17.5A2.4 2.4 0 1 0 -5.5 -18.6" stroke="#000" stroke-width="1.9" fill="none" stroke-linecap="butt"/></g>
<text transform="translate(189.3,246.8) scale(0.86,1)" x="0.00" font-size="18.5" >9</text>
<text transform="translate(184.5,298.5) scale(0.86,1)" x="-1.86 8.49" font-size="18.5" >10</text>
<path class="t" d="M193.5 302.0L193.5 348.0"/>
<path class="f" d="M193.5 357.0L191.2 348.0L195.8 348.0Z"/>
<text transform="translate(462,269.5) scale(0.86,1)" x="-1.86 8.49" font-size="18.5" >13</text>
<path class="t" d="M458.0 262.5L386.0 262.5"/>
<path class="f" d="M377.0 262.5L386.0 260.2L386.0 264.8Z"/>
<text transform="translate(462,298.5) scale(0.86,1)" x="-1.86 8.49" font-size="18.5" >12</text>
<path class="t" d="M458.0 292.5L397.0 292.5"/>
<path class="f" d="M388.0 292.5L397.0 290.2L397.0 294.8Z"/>
<g transform="translate(462,355) scale(1.0)"><path d="M0 0L-5.7 -14.2" stroke="#000" stroke-width="2.1" fill="none" stroke-linecap="round"/><path d="M-8.4 -17.5A2.4 2.4 0 1 0 -5.5 -18.6" stroke="#000" stroke-width="1.9" fill="none" stroke-linecap="butt"/></g>
<text transform="translate(463.5,350.5) scale(0.86,1)" x="-1.86 6.63" font-size="18.5" >11</text>
<path class="t" d="M462.0 355.5L407.5 355.5"/>
<path class="f" d="M398.5 355.5L407.5 353.2L407.5 357.8Z"/>
<text transform="translate(240.5,747.2) scale(0.86,1)" font-size="19.5" textLength="97.1" lengthAdjust="spacing" stroke="#111" stroke-width="0.42" >Standard</text>
<text transform="translate(746,747.2) scale(0.86,1)" font-size="19.5" textLength="96.5" lengthAdjust="spacing" stroke="#111" stroke-width="0.42" >Dbl.Extra</text>
<text transform="translate(97.2,813.8) scale(0.86,1)" x="0.00" font-size="18.5" >6</text>
<path class="t" d="M109.2 807.5L135.1 807.5"/>
<path class="f" d="M144.1 807.5L135.1 809.8L135.1 805.2Z"/>
<text transform="translate(97.2,839) scale(0.86,1)" x="0.00" font-size="18.5" >5</text>
<path class="t" d="M109.2 831.5L130.8 831.5"/>
<path class="f" d="M139.8 831.5L130.8 833.8L130.8 829.2Z"/>
<text transform="translate(335,780) scale(0.86,1)" x="0.00" font-size="18.5" >6</text>
<path class="t" d="M330.0 773.5L313.0 773.5"/>
<path class="f" d="M304.0 773.5L313.0 771.2L313.0 775.8Z"/>
<text transform="translate(335,802) scale(0.86,1)" x="0.00" font-size="18.5" >5</text>
<path class="t" d="M330.0 794.5L317.0 794.5"/>
<path class="f" d="M308.0 794.5L317.0 792.2L317.0 796.8Z"/>
<text transform="translate(336,836) scale(0.86,1)" x="0.00" font-size="18.5" >4</text>
<path class="t" d="M340.5 838.0L340.5 874.0"/>
<path class="f" d="M340.5 883.0L338.2 874.0L342.8 874.0Z"/>
<text transform="translate(388,836) scale(0.86,1)" x="0.00" font-size="18.5" >5</text>
<path class="t" d="M392.5 838.0L392.5 859.0"/>
<path class="f" d="M392.5 868.0L390.2 859.0L394.8 859.0Z"/>
<text transform="translate(430,836) scale(0.86,1)" x="0.00" font-size="18.5" >8</text>
<path class="t" d="M434.5 838.0L434.5 875.0"/>
<path class="f" d="M434.5 884.0L432.2 875.0L436.8 875.0Z"/>
<text transform="translate(605.2,813.8) scale(0.86,1)" x="0.00" font-size="18.5" >6</text>
<path class="t" d="M617.2 807.5L643.1 807.5"/>
<path class="f" d="M652.1 807.5L643.1 809.8L643.1 805.2Z"/>
<text transform="translate(605.2,839) scale(0.86,1)" x="0.00" font-size="18.5" >5</text>
<path class="t" d="M617.2 831.5L638.8 831.5"/>
<path class="f" d="M647.8 831.5L638.8 833.8L638.8 829.2Z"/>
<text transform="translate(843,780) scale(0.86,1)" x="0.00" font-size="18.5" >6</text>
<path class="t" d="M838.0 773.5L821.0 773.5"/>
<path class="f" d="M812.0 773.5L821.0 771.2L821.0 775.8Z"/>
<text transform="translate(843,802) scale(0.86,1)" x="0.00" font-size="18.5" >5</text>
<path class="t" d="M838.0 794.5L825.0 794.5"/>
<path class="f" d="M816.0 794.5L825.0 792.2L825.0 796.8Z"/>
<text transform="translate(844,836) scale(0.86,1)" x="0.00" font-size="18.5" >4</text>
<path class="t" d="M848.5 838.0L848.5 874.0"/>
<path class="f" d="M848.5 883.0L846.2 874.0L850.8 874.0Z"/>
<text transform="translate(896,836) scale(0.86,1)" x="0.00" font-size="18.5" >5</text>
<path class="t" d="M900.5 838.0L900.5 859.0"/>
<path class="f" d="M900.5 868.0L898.2 859.0L902.8 859.0Z"/>
<text transform="translate(938,836) scale(0.86,1)" x="0.00" font-size="18.5" >8</text>
<path class="t" d="M942.5 838.0L942.5 875.0"/>
<path class="f" d="M942.5 884.0L940.2 875.0L944.8 875.0Z"/>
<text transform="translate(97.2,983.4) scale(0.86,1)" x="0.00" font-size="18.5" >3</text>
<path class="t" d="M109.2 976.5L164.4 976.5"/>
<path class="f" d="M173.4 976.5L164.4 978.8L164.4 974.2Z"/>
<text transform="translate(297,983.4) scale(0.86,1)" x="0.00" font-size="18.5" >3</text>
<path class="t" d="M300.5 968.0L300.5 957.0"/>
<path class="f" d="M300.5 948.0L302.8 957.0L298.2 957.0Z"/>
<text transform="translate(472,836) scale(0.86,1)" x="0.00" font-size="18.5" >3</text>
<path class="t" d="M476.5 838.0L476.5 888.0"/>
<path class="f" d="M476.5 897.0L474.2 888.0L478.8 888.0Z"/>
<text transform="translate(605,962.5) scale(0.86,1)" x="0.00" font-size="18.5" >2</text>
<path class="t" d="M618.0 955.5L674.0 955.5"/>
<path class="f" d="M683.0 955.5L674.0 957.8L674.0 953.2Z"/>
<text transform="translate(605,983.4) scale(0.86,1)" x="0.00" font-size="18.5" >3</text>
<path class="t" d="M618.0 976.5L672.0 976.5"/>
<path class="f" d="M681.0 976.5L672.0 978.8L672.0 974.2Z"/>
<text transform="translate(981,836) scale(0.86,1)" x="0.00" font-size="18.5" >7</text>
<path class="t" d="M984.5 838.0L984.5 885.0"/>
<path class="f" d="M984.5 894.0L982.2 885.0L986.8 885.0Z"/>
<text transform="translate(981,982.6) scale(0.86,1)" x="0.00" font-size="18.5" >7</text>
<path class="t" d="M976.0 976.5L949.8 976.5"/>
<path class="f" d="M940.8 976.5L949.8 974.2L949.8 978.8Z"/>
<text transform="translate(-0.5,1065) scale(0.86,1)" font-size="19.5" textLength="46.5" lengthAdjust="spacing" stroke="#111" stroke-width="0.42" >Lock:</text>
<text transform="translate(0,1089) scale(0.58,1)" font-size="19.5" textLength="13.1" lengthAdjust="spacing" stroke="#111" stroke-width="0.42" >C</text>
<text transform="translate(9.4,1089) scale(0.86,1)" font-size="13.8" textLength="27.4" lengthAdjust="spacing" stroke="#111" stroke-width="0.30" >lose</text>
<text transform="translate(-0.5,1132.8) scale(0.86,1)" font-size="19.5" textLength="46.5" lengthAdjust="spacing" stroke="#111" stroke-width="0.42" >Lock:</text>
<text transform="translate(0,1156.6) scale(0.58,1)" font-size="19.5" textLength="13.8" lengthAdjust="spacing" stroke="#111" stroke-width="0.42" >O</text>
<text transform="translate(10.3,1156.6) scale(0.86,1)" font-size="13.8" textLength="23.3" lengthAdjust="spacing" stroke="#111" stroke-width="0.30" >pen</text>
<text transform="translate(-0.5,1210) scale(0.86,1)" font-size="19.5" textLength="56.4" lengthAdjust="spacing" stroke="#111" stroke-width="0.42" >Extra:</text>
<text transform="translate(-0.5,1229.8) scale(0.86,1)" font-size="13.5" textLength="61.6" lengthAdjust="spacing" stroke="#111" stroke-width="0.29" >Standard</text>
<text transform="translate(-0.5,1325.7) scale(0.86,1)" font-size="19.5" textLength="95.9" lengthAdjust="spacing" stroke="#111" stroke-width="0.42" >Extra 2 A:</text>
<text transform="translate(-0.5,1345) scale(0.86,1)" font-size="13.5" textLength="42.4" lengthAdjust="spacing" stroke="#111" stroke-width="0.29" >Option</text>
<text transform="translate(-0.5,1362.4) scale(0.86,1)" font-size="13.5" textLength="61.6" lengthAdjust="spacing" stroke="#111" stroke-width="0.29" >Dbl.Extra</text>
<text transform="translate(-0.5,1400.2) scale(0.86,1)" font-size="19.5" textLength="94.8" lengthAdjust="spacing" stroke="#111" stroke-width="0.42" >Extra 2 B:</text>
<text transform="translate(-0.5,1419.8) scale(0.86,1)" font-size="13.5" textLength="42.4" lengthAdjust="spacing" stroke="#111" stroke-width="0.29" >Option</text>
<text transform="translate(-0.5,1437.2) scale(0.86,1)" font-size="13.5" textLength="61.6" lengthAdjust="spacing" stroke="#111" stroke-width="0.29" >Dbl.Extra</text>
<text transform="translate(115,1020) scale(0.86,1)" x="0.00" font-size="18.5" >5</text>
<path class="t" d="M118.5 1023.6L118.5 1034.0"/>
<path class="f" d="M118.5 1043.0L116.2 1034.0L120.8 1034.0Z"/>
<text transform="translate(187.4,1020) scale(0.86,1)" x="0.00" font-size="18.5" >8</text>
<path class="t" d="M191.5 1023.6L191.5 1038.0"/>
<path class="f" d="M191.5 1047.0L189.2 1038.0L193.8 1038.0Z"/>
<text transform="translate(297,1020) scale(0.86,1)" x="0.00 9.88" font-size="18.5" >41</text>
<path class="t" d="M306.5 1023.6L306.5 1038.6"/>
<path class="f" d="M306.5 1047.6L304.2 1038.6L308.8 1038.6Z"/>
<text transform="translate(421.8,1020) scale(0.86,1)" x="0.00 11.74" font-size="18.5" >43</text>
<path class="t" d="M431.5 1023.6L431.5 1034.7"/>
<path class="f" d="M431.5 1043.7L429.2 1034.7L433.8 1034.7Z"/>
<text transform="translate(115,1091.8) scale(0.86,1)" x="0.00" font-size="18.5" >5</text>
<path class="t" d="M118.5 1095.4L118.5 1105.8"/>
<path class="f" d="M118.5 1114.8L116.2 1105.8L120.8 1105.8Z"/>
<text transform="translate(187.4,1091.8) scale(0.86,1)" x="0.00" font-size="18.5" >8</text>
<path class="t" d="M191.5 1095.4L191.5 1109.8"/>
<path class="f" d="M191.5 1118.8L189.2 1109.8L193.8 1109.8Z"/>
<text transform="translate(295.4,1091.8) scale(0.86,1)" x="0.00 11.74" font-size="18.5" >42</text>
<path class="t" d="M306.5 1095.4L306.5 1110.4"/>
<path class="f" d="M306.5 1119.4L304.2 1110.4L308.8 1110.4Z"/>
<text transform="translate(421.8,1091.8) scale(0.86,1)" x="0.00 11.74" font-size="18.5" >43</text>
<path class="t" d="M431.5 1095.4L431.5 1106.5"/>
<path class="f" d="M431.5 1115.5L429.2 1106.5L433.8 1106.5Z"/>
<text transform="translate(513.6,1064.3) scale(0.58,1)" font-size="19.5" textLength="12.9" lengthAdjust="spacing" stroke="#111" stroke-width="0.42" >C</text>
<text transform="translate(514,1131.8) scale(0.6,1)" font-size="19.5" textLength="13.8" lengthAdjust="spacing" stroke="#111" stroke-width="0.42" >O</text>
<text transform="translate(111,1165) scale(0.86,1)" x="0.00 11.74" font-size="18.5" >36</text>
<path class="t" d="M119.5 1169.0L119.5 1179.0"/>
<path class="f" d="M119.5 1188.0L117.2 1179.0L121.8 1179.0Z"/>
<text transform="translate(181,1165) scale(0.86,1)" x="0.00 11.74" font-size="18.5" >37</text>
<path class="t" d="M189.5 1169.0L189.5 1184.6"/>
<path class="f" d="M189.5 1193.6L187.2 1184.6L191.8 1184.6Z"/>
<text transform="translate(259,1165) scale(0.86,1)" x="0.00 11.74" font-size="18.5" >38</text>
<path class="t" d="M267.5 1169.0L267.5 1181.5"/>
<path class="f" d="M267.5 1190.5L265.2 1181.5L269.8 1181.5Z"/>
<text transform="translate(305.5,1165) scale(0.86,1)" x="0.00 11.74" font-size="18.5" >36</text>
<path class="t" d="M313.5 1169.0L313.5 1179.8"/>
<path class="f" d="M313.5 1188.8L311.2 1179.8L315.8 1179.8Z"/>
<text transform="translate(369.8,1165) scale(0.86,1)" x="0.00 11.74" font-size="18.5" >39</text>
<path class="t" d="M378.5 1169.0L378.5 1181.4"/>
<path class="f" d="M378.5 1190.4L376.2 1181.4L380.8 1181.4Z"/>
<text transform="translate(456,1165) scale(0.86,1)" x="0.00 11.74" font-size="18.5" >40</text>
<path class="t" d="M464.5 1169.0L464.5 1181.0"/>
<path class="f" d="M464.5 1190.0L462.2 1181.0L466.8 1181.0Z"/>
<text transform="translate(161,1287.6) scale(0.86,1)" x="0.00" font-size="18.5" >7</text>
<path class="t" d="M164.5 1291.0L164.5 1304.0"/>
<path class="f" d="M164.5 1313.0L162.2 1304.0L166.8 1304.0Z"/>
<text transform="translate(187.4,1287.6) scale(0.86,1)" x="0.00 11.74" font-size="18.5" >28</text>
<path class="t" d="M195.5 1291.0L195.5 1308.4"/>
<path class="f" d="M195.5 1317.4L193.2 1308.4L197.8 1308.4Z"/>
<text transform="translate(219,1287.6) scale(0.86,1)" x="0.00 11.74" font-size="18.5" >30</text>
<path class="t" d="M227.5 1291.0L227.5 1301.0"/>
<path class="f" d="M227.5 1310.0L225.2 1301.0L229.8 1301.0Z"/>
<text transform="translate(266.5,1287.6) scale(0.86,1)" x="0.00 9.88" font-size="18.5" >31</text>
<path class="t" d="M273.5 1291.0L273.5 1299.0"/>
<path class="f" d="M273.5 1308.0L271.2 1299.0L275.8 1299.0Z"/>
<text transform="translate(305,1287.6) scale(0.86,1)" x="0.00 11.74" font-size="18.5" >32</text>
<path class="t" d="M313.5 1291.0L313.5 1305.0"/>
<path class="f" d="M313.5 1314.0L311.2 1305.0L315.8 1305.0Z"/>
<text transform="translate(368.7,1287.6) scale(0.86,1)" x="0.00 11.74" font-size="18.5" >33</text>
<path class="t" d="M376.5 1291.0L376.5 1300.3"/>
<path class="f" d="M376.5 1309.3L374.2 1300.3L378.8 1300.3Z"/>
<text transform="translate(415.6,1287.6) scale(0.86,1)" x="0.00 11.74" font-size="18.5" >34</text>
<path class="t" d="M424.5 1291.0L424.5 1303.5"/>
<path class="f" d="M424.5 1312.5L422.2 1303.5L426.8 1303.5Z"/>
<text transform="translate(456.7,1287.6) scale(0.86,1)" x="0.00 11.74" font-size="18.5" >35</text>
<path class="t" d="M465.5 1291.0L465.5 1301.4"/>
<path class="f" d="M465.5 1310.4L463.2 1301.4L467.8 1301.4Z"/>
<text transform="translate(161,1381.6) scale(0.86,1)" x="0.00" font-size="18.5" >7</text>
<path class="t" d="M164.5 1385.0L164.5 1398.0"/>
<path class="f" d="M164.5 1407.0L162.2 1398.0L166.8 1398.0Z"/>
<text transform="translate(187.4,1381.6) scale(0.86,1)" x="0.00 11.74" font-size="18.5" >29</text>
<path class="t" d="M195.5 1385.0L195.5 1402.4"/>
<path class="f" d="M195.5 1411.4L193.2 1402.4L197.8 1402.4Z"/>
<text transform="translate(219,1381.6) scale(0.86,1)" x="0.00 11.74" font-size="18.5" >30</text>
<path class="t" d="M227.5 1385.0L227.5 1395.0"/>
<path class="f" d="M227.5 1404.0L225.2 1395.0L229.8 1395.0Z"/>
<text transform="translate(266.5,1381.6) scale(0.86,1)" x="0.00 9.88" font-size="18.5" >31</text>
<path class="t" d="M273.5 1385.0L273.5 1393.0"/>
<path class="f" d="M273.5 1402.0L271.2 1393.0L275.8 1393.0Z"/>
<text transform="translate(305,1381.6) scale(0.86,1)" x="0.00 11.74" font-size="18.5" >32</text>
<path class="t" d="M313.5 1385.0L313.5 1399.0"/>
<path class="f" d="M313.5 1408.0L311.2 1399.0L315.8 1399.0Z"/>
<text transform="translate(368.7,1381.6) scale(0.86,1)" x="0.00 11.74" font-size="18.5" >33</text>
<path class="t" d="M376.5 1385.0L376.5 1394.3"/>
<path class="f" d="M376.5 1403.3L374.2 1394.3L378.8 1394.3Z"/>
<text transform="translate(415.6,1381.6) scale(0.86,1)" x="0.00 11.74" font-size="18.5" >34</text>
<path class="t" d="M424.5 1385.0L424.5 1397.5"/>
<path class="f" d="M424.5 1406.5L422.2 1397.5L426.8 1397.5Z"/>
<text transform="translate(456.7,1381.6) scale(0.86,1)" x="0.00 11.74" font-size="18.5" >35</text>
<path class="t" d="M465.5 1385.0L465.5 1395.4"/>
<path class="f" d="M465.5 1404.4L463.2 1395.4L467.8 1395.4Z"/>
<text transform="translate(662.8,1065.3) scale(0.86,1)" font-size="19.5" textLength="152.3" lengthAdjust="spacing" stroke="#111" stroke-width="0.42" >Standard Extra:</text>
<text transform="translate(933,1065.3) scale(0.86,1)" font-size="19.5" textLength="90.2" lengthAdjust="spacing" stroke="#111" stroke-width="0.42" >Dbl.Extra:</text>
<text transform="translate(792.6,1111.6) scale(0.86,1)" font-size="19.5" textLength="40.1" lengthAdjust="spacing" stroke="#111" stroke-width="0.42" >Lock</text>
<text transform="translate(792.6,1127) scale(0.86,1)" font-size="13.5" textLength="31.0" lengthAdjust="spacing" stroke="#111" stroke-width="0.29" >Open</text>
<text transform="translate(792.6,1148.7) scale(0.86,1)" font-size="19.5" textLength="40.1" lengthAdjust="spacing" stroke="#111" stroke-width="0.42" >Lock</text>
<text transform="translate(792.6,1164) scale(0.86,1)" font-size="13.5" textLength="35.2" lengthAdjust="spacing" stroke="#111" stroke-width="0.29" >Close</text>
<text transform="translate(792.6,1187.8) scale(0.86,1)" font-size="19.5" textLength="48.8" lengthAdjust="spacing" stroke="#111" stroke-width="0.42" >Extra</text>
<text transform="translate(600.6,1213.8) scale(0.86,1)" font-size="19.5" textLength="50.9" lengthAdjust="spacing" stroke="#111" stroke-width="0.42" >Extra</text>
<text transform="translate(882.3,1094.5) scale(0.86,1)" font-size="19.5" textLength="67.4" lengthAdjust="spacing" stroke="#111" stroke-width="0.42" >Extra 2</text>
<text transform="translate(986.6,1094.5) scale(0.86,1)" font-size="19.5" textLength="67.2" lengthAdjust="spacing" stroke="#111" stroke-width="0.42" >Extra 2</text>
<path class="t" d="M792.0 1122.7L781.0 1130.3"/>
<path class="t" d="M792.0 1122.7L782.5 1129.4"/>
<path class="f" d="M776.8 1133.4L781.4 1127.7L783.7 1131.0Z"/>
<path class="t" d="M792.0 1142.5L763.5 1142.5"/>
<path class="f" d="M755.5 1142.5L763.5 1140.5L763.5 1144.5Z"/>
<path class="t" d="M786.7 1181.8L792.0 1181.8"/>
<path class="t" d="M645.6 1207.4L661.0 1207.4"/>
<path class="t" d="M661.0 1207.4L675.7 1197.1"/>
<path class="f" d="M682.2 1192.5L676.8 1198.7L674.5 1195.5Z"/>
<path class="t" d="M941.8 1088.4L962.6 1088.4"/>
<path class="t" d="M962.6 1088.4L955.6 1118.4"/>
<path class="f" d="M953.8 1126.2L953.7 1118.0L957.6 1118.9Z"/>
<path class="t" d="M1045.5 1087.0L1057.5 1087.0"/>
<path class="t" d="M1057.5 1087.0L1057.8 1097.4"/>
<path class="f" d="M1058.0 1104.4L1055.8 1097.5L1059.8 1097.3Z"/>
<rect x="603.500" y="1282.500" width="292.500" height="139" rx="24" ry="24" class="k"/>
<text transform="translate(724,1274) scale(0.6,1)" font-size="19.5" textLength="14.2" lengthAdjust="spacing" stroke="#111" stroke-width="0.42" >O</text>
<text transform="translate(751.6,1274) scale(0.56,1)" font-size="19.5" textLength="12.9" lengthAdjust="spacing" stroke="#111" stroke-width="0.42" >C</text>
<path class="t" d="M728.5 1276.0L728.5 1338.0"/>
<path class="f" d="M728.5 1344.0L726.7 1338.0L730.3 1338.0Z"/>
<path class="t" d="M755.5 1276.0L755.5 1343.5"/>
<path class="f" d="M755.5 1349.5L753.7 1343.5L757.3 1343.5Z"/>
<path class="t" d="M946.4 1352.5L905.5 1352.5"/>
<path class="f" d="M896.5 1352.5L905.5 1350.2L905.5 1354.8Z"/>
<text transform="translate(949.7,1358.2) scale(0.86,1)" font-size="15.5" textLength="136.0" lengthAdjust="spacing" stroke="#111" stroke-width="0.33" font-style="italic">See instruction,</text>
<text transform="translate(949.7,1378) scale(0.86,1)" font-size="15.5" textLength="174.4" lengthAdjust="spacing" stroke="#111" stroke-width="0.33" >Standard components</text>
</svg>
</body></html>
